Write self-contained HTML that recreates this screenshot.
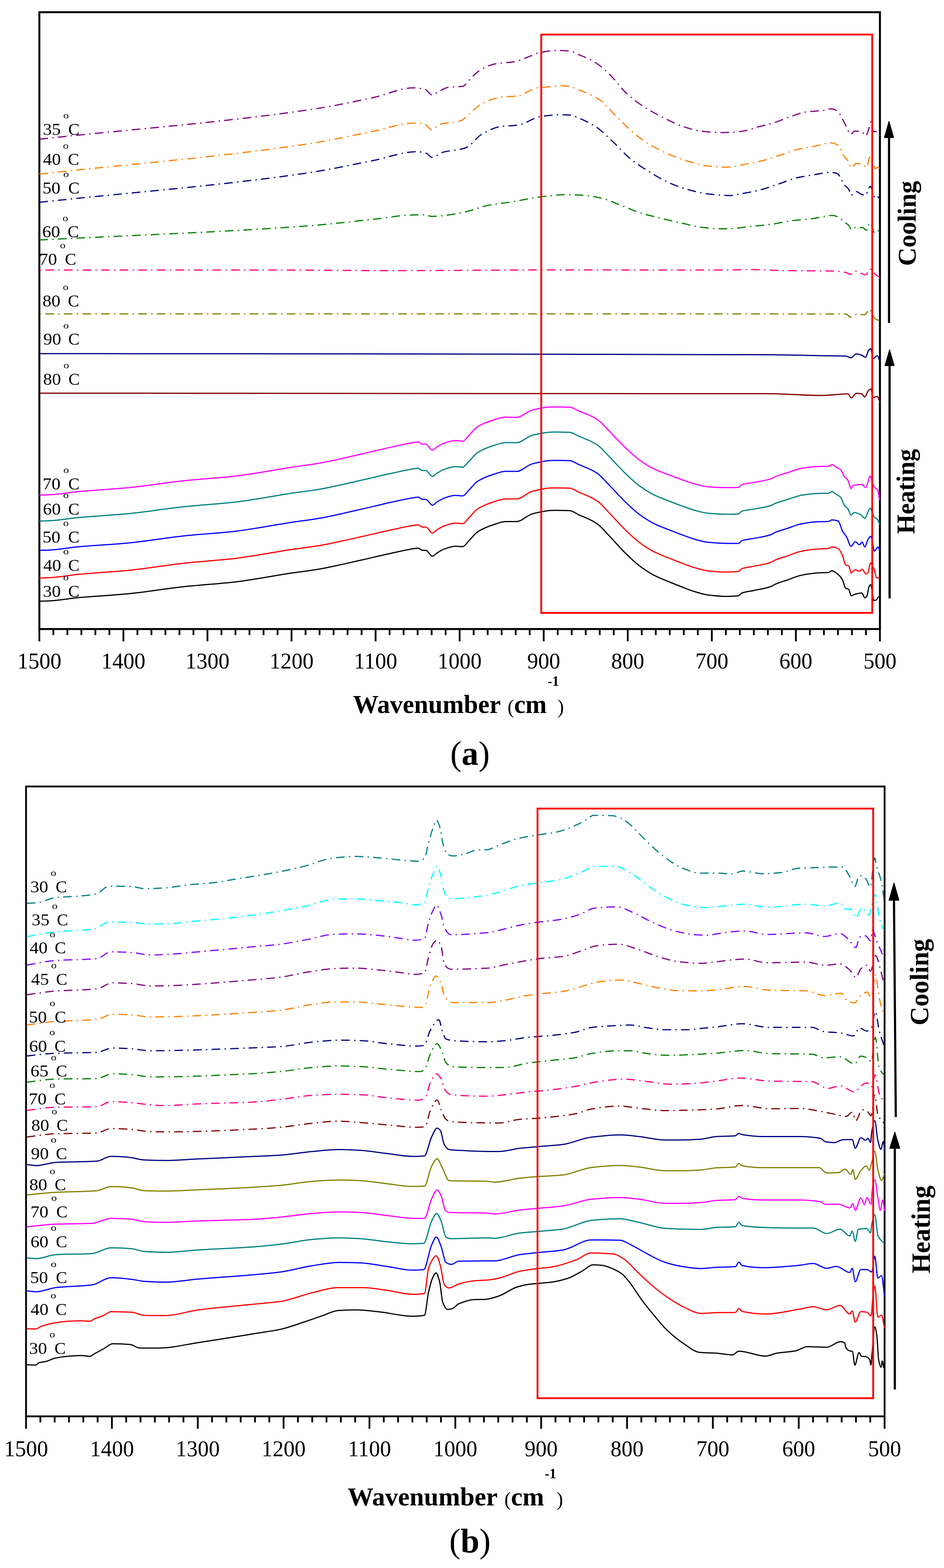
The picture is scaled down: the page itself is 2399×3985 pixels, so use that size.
<!DOCTYPE html>
<html><head><meta charset="utf-8"><title>FTIR spectra</title>
<style>
html,body{margin:0;padding:0;background:#fff;}
svg{display:block;}
</style></head>
<body>
<svg width="2399" height="3985" viewBox="0 0 2399 3985" font-family="'Liberation Serif', 'Times New Roman', serif" fill="#000">
<rect width="100%" height="100%" fill="#fff"/>
<rect x="100.0" y="31.0" width="2136.2" height="1567.7" fill="none" stroke="#000" stroke-width="5"/>
<path d="M100.0,1469.0 C109.3,1468.7 118.7,1468.4 128.0,1468.0 C151.3,1466.7 174.7,1462.1 198.0,1459.8 C240.7,1455.7 283.3,1453.8 326.0,1449.6 C373.0,1445.0 420.0,1436.5 467.0,1431.4 C511.3,1426.6 555.7,1424.2 600.0,1419.0 C618.0,1416.8 635.9,1413.7 653.9,1410.9 C680.9,1406.6 707.8,1401.5 734.8,1397.4 C759.9,1393.6 785.1,1391.0 810.2,1386.8 C830.0,1383.5 849.7,1379.0 869.5,1374.8 C887.5,1371.0 905.5,1366.8 923.5,1362.8 C949.0,1357.0 974.5,1350.8 1000.0,1345.5 C1018.0,1341.7 1036.0,1337.2 1054.0,1334.9 C1057.0,1334.5 1060.0,1333.9 1063.0,1333.9 C1066.3,1333.9 1069.7,1339.5 1073.0,1339.5 C1076.0,1339.5 1079.0,1339.5 1082.0,1339.6 C1087.7,1339.6 1093.3,1354.7 1099.0,1354.7 C1102.7,1354.7 1106.3,1349.1 1110.0,1346.8 C1116.3,1342.8 1122.7,1338.7 1129.0,1336.5 C1138.5,1333.3 1148.0,1329.6 1157.5,1329.6 C1163.7,1329.6 1169.8,1330.8 1176.0,1330.8 C1181.0,1330.8 1186.0,1321.6 1191.0,1316.7 C1198.7,1309.2 1206.3,1298.1 1214.0,1293.3 C1228.3,1284.2 1242.7,1279.0 1257.0,1274.7 C1266.3,1271.8 1275.7,1267.9 1285.0,1267.9 C1294.3,1267.9 1303.7,1268.0 1313.0,1268.0 C1325.7,1268.0 1338.3,1253.2 1351.0,1249.3 C1358.8,1246.9 1366.7,1245.2 1374.5,1243.8 C1383.0,1242.3 1391.5,1240.3 1400.0,1240.1 C1403.8,1240.0 1407.7,1239.9 1411.5,1239.9 C1423.7,1239.9 1435.8,1240.1 1448.0,1240.6 C1455.7,1240.9 1463.3,1247.5 1471.0,1250.8 C1481.5,1255.5 1492.1,1259.2 1502.6,1264.6 C1508.4,1267.5 1514.2,1270.7 1520.0,1275.0 C1527.0,1280.1 1534.0,1288.5 1541.0,1295.7 C1548.0,1302.9 1555.0,1310.8 1562.0,1318.2 C1571.3,1328.1 1580.7,1338.5 1590.0,1347.5 C1601.7,1358.8 1613.3,1370.0 1625.0,1378.7 C1636.7,1387.4 1648.3,1395.1 1660.0,1401.1 C1671.7,1407.2 1683.3,1411.6 1695.0,1416.4 C1706.7,1421.2 1718.3,1425.7 1730.0,1430.0 C1741.7,1434.4 1753.3,1439.3 1765.0,1442.6 C1776.7,1445.9 1788.3,1449.7 1800.0,1450.9 C1815.3,1452.5 1830.7,1453.8 1846.0,1453.8 C1856.3,1453.8 1866.7,1453.4 1877.0,1452.1 C1879.7,1451.8 1882.3,1446.4 1885.0,1445.4 C1895.7,1441.4 1906.3,1441.1 1917.0,1438.9 C1930.7,1435.9 1944.3,1434.2 1958.0,1429.6 C1962.3,1428.1 1966.7,1424.7 1971.0,1422.9 C1980.0,1419.2 1989.0,1416.8 1998.0,1413.8 C2011.7,1409.2 2025.3,1402.9 2039.0,1400.4 C2052.3,1397.9 2065.7,1396.0 2079.0,1395.2 C2088.0,1394.7 2097.0,1394.9 2106.0,1394.1 C2108.7,1393.8 2111.3,1390.0 2114.0,1390.0 C2119.3,1390.0 2124.7,1391.6 2130.0,1394.0 C2133.7,1395.7 2137.3,1403.8 2141.0,1411.5 C2143.7,1417.2 2146.5,1434.2 2149.2,1435.8 C2151.9,1437.4 2154.6,1436.8 2157.3,1438.5 C2159.1,1439.7 2160.9,1456.0 2162.7,1456.0 C2166.3,1456.0 2169.9,1448.0 2173.5,1448.0 C2177.0,1448.0 2180.5,1452.0 2184.0,1452.0 C2186.3,1452.0 2188.7,1446.6 2191.0,1446.6 C2194.1,1446.6 2197.3,1458.7 2200.4,1458.7 C2202.2,1458.7 2204.0,1457.7 2205.8,1456.0 C2207.1,1454.8 2208.5,1443.2 2209.8,1438.5 C2210.7,1435.3 2211.6,1430.4 2212.5,1430.4 C2213.7,1430.4 2214.8,1433.9 2216.0,1436.0 C2218.0,1439.5 2220.0,1442.8 2222.0,1448.0 C2223.8,1452.7 2225.6,1467.3 2227.4,1468.0 C2230.1,1469.0 2232.7,1469.0 2235.4,1469.5" fill="none" stroke="#FF0000" stroke-width="3.0" stroke-linejoin="round"/>
<path d="M100.0,1398.7 C109.3,1398.4 118.7,1398.2 128.0,1397.7 C151.3,1396.6 174.7,1392.0 198.0,1389.8 C240.7,1385.8 283.3,1384.0 326.0,1379.9 C373.0,1375.4 420.0,1367.0 467.0,1362.0 C511.3,1357.3 555.7,1355.1 600.0,1349.9 C618.0,1347.8 635.9,1344.8 653.9,1342.0 C680.9,1337.7 707.8,1332.6 734.8,1328.4 C759.9,1324.5 785.1,1321.8 810.2,1317.5 C830.0,1314.1 849.7,1309.5 869.5,1305.2 C887.5,1301.3 905.5,1297.0 923.5,1292.9 C949.0,1287.0 974.5,1280.7 1000.0,1275.2 C1018.0,1271.4 1036.0,1266.8 1054.0,1264.4 C1057.0,1264.0 1060.0,1263.4 1063.0,1263.4 C1066.3,1263.4 1069.7,1269.0 1073.0,1269.0 C1076.0,1269.0 1079.0,1268.9 1082.0,1268.9 C1087.7,1268.9 1093.3,1284.0 1099.0,1284.0 C1102.7,1284.0 1106.3,1278.4 1110.0,1276.1 C1116.3,1272.2 1122.7,1268.1 1129.0,1265.9 C1138.5,1262.7 1148.0,1259.1 1157.5,1259.1 C1163.7,1259.1 1169.8,1260.3 1176.0,1260.3 C1181.0,1260.3 1186.0,1251.2 1191.0,1246.3 C1198.7,1238.9 1206.3,1227.8 1214.0,1223.0 C1228.3,1214.0 1242.7,1208.8 1257.0,1204.5 C1266.3,1201.7 1275.7,1197.8 1285.0,1197.8 C1294.3,1197.8 1303.7,1198.1 1313.0,1198.1 C1325.7,1198.1 1338.3,1183.3 1351.0,1179.4 C1358.8,1177.0 1366.7,1175.3 1374.5,1173.9 C1383.0,1172.4 1391.5,1170.4 1400.0,1170.2 C1403.8,1170.2 1407.7,1170.1 1411.5,1170.1 C1423.7,1170.1 1435.8,1170.3 1448.0,1170.7 C1455.7,1170.9 1463.3,1177.4 1471.0,1180.7 C1481.5,1185.3 1492.1,1188.9 1502.6,1194.2 C1508.4,1197.1 1514.2,1200.2 1520.0,1204.5 C1527.0,1209.6 1534.0,1217.9 1541.0,1225.1 C1548.0,1232.2 1555.0,1240.0 1562.0,1247.4 C1571.3,1257.2 1580.7,1267.6 1590.0,1276.5 C1601.7,1287.7 1613.3,1298.9 1625.0,1307.5 C1636.7,1316.0 1648.3,1323.6 1660.0,1329.6 C1671.7,1335.5 1683.3,1339.9 1695.0,1344.6 C1706.7,1349.3 1718.3,1353.7 1730.0,1357.9 C1741.7,1362.2 1753.3,1367.0 1765.0,1370.3 C1776.7,1373.5 1788.3,1377.2 1800.0,1378.3 C1815.3,1379.7 1830.7,1380.8 1846.0,1380.9 C1856.3,1381.0 1866.7,1381.0 1877.0,1381.0 C1879.7,1381.0 1882.3,1375.3 1885.0,1374.3 C1895.7,1370.5 1906.3,1370.3 1917.0,1368.1 C1930.7,1365.3 1944.3,1363.7 1958.0,1359.2 C1962.3,1357.8 1966.7,1354.5 1971.0,1352.7 C1980.0,1349.1 1989.0,1346.8 1998.0,1343.8 C2011.7,1339.4 2025.3,1333.2 2039.0,1330.9 C2052.3,1328.5 2065.7,1326.7 2079.0,1326.1 C2088.0,1325.6 2097.0,1325.8 2106.0,1325.2 C2108.7,1325.0 2111.3,1321.2 2114.0,1321.2 C2119.3,1321.2 2124.7,1322.2 2130.0,1324.0 C2133.7,1325.3 2137.3,1342.9 2141.0,1349.5 C2144.7,1356.1 2148.3,1359.3 2152.0,1365.7 C2155.6,1371.9 2159.1,1388.6 2162.7,1388.6 C2166.3,1388.6 2169.9,1376.5 2173.5,1376.5 C2177.1,1376.5 2180.6,1384.6 2184.2,1384.6 C2186.5,1384.6 2188.7,1377.8 2191.0,1377.8 C2193.2,1377.8 2195.5,1390.0 2197.7,1390.0 C2200.4,1390.0 2203.1,1375.2 2205.8,1371.0 C2208.0,1367.5 2210.3,1363.0 2212.5,1363.0 C2213.7,1363.0 2214.8,1368.2 2216.0,1372.0 C2218.0,1378.5 2220.0,1400.7 2222.0,1400.7 C2225.1,1400.7 2228.3,1390.0 2231.4,1390.0 C2232.7,1390.0 2234.1,1396.3 2235.4,1399.4" fill="none" stroke="#0000FF" stroke-width="3.0" stroke-linejoin="round"/>
<path d="M100.0,1324.2 C109.3,1323.9 118.7,1323.7 128.0,1323.2 C151.3,1322.1 174.7,1317.5 198.0,1315.4 C240.7,1311.4 283.3,1309.6 326.0,1305.6 C373.0,1301.1 420.0,1292.7 467.0,1287.8 C511.3,1283.2 555.7,1281.0 600.0,1275.8 C618.0,1273.8 635.9,1270.7 653.9,1267.9 C680.9,1263.7 707.8,1258.6 734.8,1254.5 C759.9,1250.6 785.1,1247.9 810.2,1243.7 C830.0,1240.3 849.7,1235.8 869.5,1231.6 C887.5,1227.7 905.5,1223.4 923.5,1219.3 C949.0,1213.5 974.5,1207.2 1000.0,1201.8 C1018.0,1198.0 1036.0,1193.5 1054.0,1191.1 C1057.0,1190.7 1060.0,1190.1 1063.0,1190.1 C1066.3,1190.1 1069.7,1195.7 1073.0,1195.7 C1076.0,1195.7 1079.0,1195.7 1082.0,1195.7 C1087.7,1195.7 1093.3,1210.8 1099.0,1210.8 C1102.7,1210.8 1106.3,1205.2 1110.0,1202.9 C1116.3,1199.0 1122.7,1194.9 1129.0,1192.8 C1138.5,1189.6 1148.0,1186.0 1157.5,1186.0 C1163.7,1186.0 1169.8,1187.2 1176.0,1187.2 C1181.0,1187.2 1186.0,1178.0 1191.0,1173.2 C1198.7,1165.8 1206.3,1154.7 1214.0,1149.9 C1228.3,1140.9 1242.7,1135.8 1257.0,1131.5 C1266.3,1128.7 1275.7,1124.8 1285.0,1124.8 C1294.3,1124.8 1303.7,1125.2 1313.0,1125.2 C1325.7,1125.2 1338.3,1110.6 1351.0,1106.8 C1358.8,1104.5 1366.7,1102.9 1374.5,1101.6 C1383.0,1100.2 1391.5,1098.2 1400.0,1098.2 C1403.8,1098.1 1407.7,1098.1 1411.5,1098.1 C1423.7,1098.1 1435.8,1098.3 1448.0,1098.8 C1455.7,1099.0 1463.3,1105.4 1471.0,1108.7 C1481.5,1113.2 1492.1,1116.8 1502.6,1122.0 C1508.4,1124.9 1514.2,1128.0 1520.0,1132.2 C1527.0,1137.3 1534.0,1145.6 1541.0,1152.7 C1548.0,1159.8 1555.0,1167.6 1562.0,1174.9 C1571.3,1184.7 1580.7,1195.0 1590.0,1203.9 C1601.7,1215.0 1613.3,1226.1 1625.0,1234.7 C1636.7,1243.2 1648.3,1250.7 1660.0,1256.6 C1671.7,1262.5 1683.3,1266.8 1695.0,1271.5 C1706.7,1276.1 1718.3,1280.4 1730.0,1284.6 C1741.7,1288.8 1753.3,1293.6 1765.0,1296.8 C1776.7,1299.9 1788.3,1303.6 1800.0,1304.6 C1815.3,1305.9 1830.7,1307.0 1846.0,1307.0 C1856.3,1307.0 1866.7,1306.8 1877.0,1305.9 C1879.7,1305.7 1882.3,1300.2 1885.0,1299.3 C1895.7,1295.7 1906.3,1295.6 1917.0,1293.6 C1930.7,1291.0 1944.3,1289.5 1958.0,1285.3 C1962.3,1284.0 1966.7,1280.7 1971.0,1279.0 C1980.0,1275.5 1989.0,1273.3 1998.0,1270.5 C2011.7,1266.3 2025.3,1260.3 2039.0,1258.2 C2052.3,1256.1 2065.7,1254.3 2079.0,1254.0 C2088.0,1253.7 2097.0,1253.8 2106.0,1253.5 C2108.7,1253.3 2111.3,1249.6 2114.0,1249.6 C2117.7,1249.6 2121.3,1253.8 2125.0,1256.1 C2128.6,1258.3 2132.1,1259.7 2135.7,1263.3 C2139.3,1266.9 2142.9,1280.2 2146.5,1284.9 C2149.2,1288.4 2151.9,1289.4 2154.6,1293.0 C2157.3,1296.6 2160.0,1309.0 2162.7,1309.0 C2165.4,1309.0 2168.1,1302.4 2170.8,1302.4 C2176.2,1302.4 2181.6,1305.1 2187.0,1307.8 C2190.6,1309.6 2194.1,1317.2 2197.7,1317.2 C2200.4,1317.2 2203.1,1306.0 2205.8,1301.0 C2207.6,1297.7 2209.4,1291.6 2211.2,1291.6 C2212.8,1291.6 2214.4,1296.8 2216.0,1300.0 C2218.0,1304.0 2220.0,1312.3 2222.0,1314.5 C2224.7,1317.4 2227.3,1317.0 2230.0,1320.0 C2231.8,1322.0 2233.6,1328.9 2235.4,1333.4" fill="none" stroke="#008080" stroke-width="3.0" stroke-linejoin="round"/>
<path d="M100.0,1258.2 C109.3,1257.9 118.7,1257.7 128.0,1257.2 C151.3,1256.1 174.7,1251.5 198.0,1249.4 C240.7,1245.4 283.3,1243.6 326.0,1239.6 C373.0,1235.1 420.0,1226.7 467.0,1221.8 C511.3,1217.2 555.7,1215.0 600.0,1209.8 C618.0,1207.8 635.9,1204.7 653.9,1201.9 C680.9,1197.7 707.8,1192.6 734.8,1188.4 C759.9,1184.5 785.1,1181.7 810.2,1177.4 C830.0,1174.0 849.7,1169.5 869.5,1165.2 C887.5,1161.3 905.5,1157.0 923.5,1152.8 C949.0,1147.0 974.5,1140.6 1000.0,1135.1 C1018.0,1131.3 1036.0,1126.8 1054.0,1124.3 C1057.0,1123.9 1060.0,1123.3 1063.0,1123.3 C1066.3,1123.3 1069.7,1128.9 1073.0,1128.9 C1076.0,1128.9 1079.0,1128.8 1082.0,1128.8 C1087.7,1128.8 1093.3,1143.9 1099.0,1143.9 C1102.7,1143.9 1106.3,1138.4 1110.0,1136.2 C1116.3,1132.3 1122.7,1128.3 1129.0,1126.2 C1138.5,1123.1 1148.0,1119.8 1157.5,1119.8 C1163.7,1119.8 1169.8,1121.2 1176.0,1121.2 C1181.0,1121.2 1186.0,1112.2 1191.0,1107.4 C1198.7,1100.1 1206.3,1089.0 1214.0,1084.3 C1228.3,1075.6 1242.7,1070.6 1257.0,1066.5 C1266.3,1063.8 1275.7,1060.1 1285.0,1060.1 C1294.3,1060.1 1303.7,1060.8 1313.0,1060.8 C1325.7,1060.8 1338.3,1046.3 1351.0,1042.6 C1358.8,1040.3 1366.7,1038.8 1374.5,1037.5 C1383.0,1036.1 1391.5,1034.2 1400.0,1034.2 C1403.8,1034.2 1407.7,1034.2 1411.5,1034.2 C1423.7,1034.3 1435.8,1034.4 1448.0,1034.8 C1455.7,1035.0 1463.3,1041.3 1471.0,1044.5 C1481.5,1048.9 1492.1,1052.4 1502.6,1057.6 C1508.4,1060.4 1514.2,1063.4 1520.0,1067.6 C1527.0,1072.6 1534.0,1080.8 1541.0,1087.9 C1548.0,1094.9 1555.0,1102.6 1562.0,1109.9 C1571.3,1119.5 1580.7,1129.8 1590.0,1138.6 C1601.7,1149.6 1613.3,1160.6 1625.0,1169.0 C1636.7,1177.5 1648.3,1184.9 1660.0,1190.7 C1671.7,1196.5 1683.3,1200.6 1695.0,1205.2 C1706.7,1209.7 1718.3,1213.9 1730.0,1218.0 C1741.7,1222.1 1753.3,1226.8 1765.0,1229.8 C1776.7,1232.9 1788.3,1236.5 1800.0,1237.3 C1815.3,1238.5 1830.7,1239.3 1846.0,1239.3 C1856.3,1239.3 1866.7,1239.1 1877.0,1238.4 C1879.7,1238.2 1882.3,1232.7 1885.0,1231.8 C1895.7,1228.1 1906.3,1228.0 1917.0,1225.9 C1930.7,1223.2 1944.3,1221.7 1958.0,1217.4 C1962.3,1216.1 1966.7,1212.8 1971.0,1211.1 C1980.0,1207.5 1989.0,1205.3 1998.0,1202.5 C2011.7,1198.2 2025.3,1192.1 2039.0,1189.9 C2052.3,1187.7 2065.7,1186.0 2079.0,1185.5 C2088.0,1185.2 2097.0,1185.4 2106.0,1184.9 C2108.7,1184.8 2111.3,1181.0 2114.0,1181.0 C2117.7,1181.0 2121.3,1185.0 2125.0,1187.1 C2128.6,1189.1 2132.1,1190.1 2135.7,1193.2 C2139.3,1196.3 2142.9,1207.5 2146.5,1212.0 C2149.2,1215.4 2151.9,1216.1 2154.6,1220.0 C2157.3,1223.9 2160.0,1241.7 2162.7,1241.7 C2164.5,1241.7 2166.2,1234.1 2168.0,1233.6 C2175.2,1231.7 2182.4,1231.0 2189.6,1231.0 C2193.2,1231.0 2196.8,1239.0 2200.4,1239.0 C2202.2,1239.0 2204.0,1230.4 2205.8,1225.5 C2207.6,1220.6 2209.4,1209.4 2211.2,1209.4 C2212.8,1209.4 2214.4,1217.6 2216.0,1222.0 C2218.0,1227.4 2220.0,1236.8 2222.0,1239.0 C2224.7,1242.0 2227.3,1241.1 2230.0,1244.4 C2231.8,1246.7 2233.6,1262.4 2235.4,1271.4" fill="none" stroke="#FF00FF" stroke-width="3.0" stroke-linejoin="round"/>
<path d="M100.0,1528.0 C109.3,1527.7 118.7,1527.5 128.0,1527.0 C151.3,1525.8 174.7,1521.2 198.0,1519.0 C240.7,1515.0 283.3,1513.1 326.0,1509.0 C373.0,1504.5 420.0,1496.0 467.0,1491.0 C511.3,1486.3 555.7,1484.0 600.0,1478.8 C618.0,1476.7 635.9,1473.6 653.9,1470.8 C680.9,1466.6 707.8,1461.5 734.8,1457.3 C759.9,1453.4 785.1,1450.8 810.2,1446.5 C830.0,1443.1 849.7,1438.6 869.5,1434.4 C887.5,1430.5 905.5,1426.3 923.5,1422.2 C949.0,1416.4 974.5,1410.1 1000.0,1404.7 C1018.0,1400.9 1036.0,1396.4 1054.0,1394.0 C1057.0,1393.6 1060.0,1393.0 1063.0,1393.0 C1066.3,1393.0 1069.7,1398.6 1073.0,1398.6 C1076.0,1398.6 1079.0,1398.6 1082.0,1398.6 C1087.7,1398.6 1093.3,1413.7 1099.0,1413.7 C1102.7,1413.7 1106.3,1408.0 1110.0,1405.7 C1116.3,1401.7 1122.7,1397.5 1129.0,1395.3 C1138.5,1392.0 1148.0,1388.2 1157.5,1388.2 C1163.7,1388.2 1169.8,1389.2 1176.0,1389.2 C1181.0,1389.2 1186.0,1379.9 1191.0,1375.0 C1198.7,1367.5 1206.3,1356.3 1214.0,1351.4 C1228.3,1342.2 1242.7,1337.0 1257.0,1332.5 C1266.3,1329.6 1275.7,1325.5 1285.0,1325.5 C1294.3,1325.5 1303.7,1325.5 1313.0,1325.5 C1325.7,1325.5 1338.3,1310.6 1351.0,1306.6 C1358.8,1304.1 1366.7,1302.4 1374.5,1301.0 C1383.0,1299.4 1391.5,1297.4 1400.0,1297.2 C1403.8,1297.1 1407.7,1297.0 1411.5,1297.0 C1423.7,1297.0 1435.8,1297.3 1448.0,1297.8 C1455.7,1298.1 1463.3,1304.8 1471.0,1308.3 C1481.5,1313.1 1492.1,1316.9 1502.6,1322.4 C1508.4,1325.4 1514.2,1328.6 1520.0,1333.0 C1527.0,1338.3 1534.0,1346.7 1541.0,1354.0 C1548.0,1361.3 1555.0,1369.2 1562.0,1376.7 C1571.3,1386.7 1580.7,1397.3 1590.0,1406.4 C1601.7,1417.8 1613.3,1429.2 1625.0,1438.0 C1636.7,1446.8 1648.3,1454.6 1660.0,1460.8 C1671.7,1467.0 1683.3,1471.6 1695.0,1476.5 C1706.7,1481.4 1718.3,1486.0 1730.0,1490.5 C1741.7,1495.0 1753.3,1500.0 1765.0,1503.5 C1776.7,1507.0 1788.3,1510.8 1800.0,1512.2 C1815.3,1514.0 1830.7,1515.7 1846.0,1515.7 C1856.3,1515.7 1866.7,1515.3 1877.0,1514.0 C1879.7,1513.7 1882.3,1508.2 1885.0,1507.2 C1895.7,1503.1 1906.3,1502.8 1917.0,1500.5 C1930.7,1497.5 1944.3,1495.7 1958.0,1491.0 C1962.3,1489.5 1966.7,1486.1 1971.0,1484.3 C1980.0,1480.5 1989.0,1478.0 1998.0,1475.0 C2011.7,1470.4 2025.3,1464.0 2039.0,1461.4 C2052.3,1458.8 2065.7,1456.9 2079.0,1456.0 C2088.0,1455.4 2097.0,1455.6 2106.0,1454.7 C2108.7,1454.4 2111.3,1450.6 2114.0,1450.6 C2119.3,1450.6 2124.7,1455.7 2130.0,1460.0 C2133.7,1463.0 2137.3,1467.2 2141.0,1473.5 C2143.7,1478.1 2146.3,1493.3 2149.0,1495.0 C2151.7,1496.7 2154.3,1496.1 2157.0,1497.8 C2159.0,1499.1 2161.0,1514.0 2163.0,1514.0 C2166.5,1514.0 2170.0,1510.9 2173.5,1510.0 C2179.0,1508.6 2184.5,1507.0 2190.0,1507.0 C2192.7,1507.0 2195.3,1519.3 2198.0,1519.3 C2199.7,1519.3 2201.3,1517.5 2203.0,1515.3 C2204.8,1512.8 2206.7,1494.6 2208.5,1491.0 C2209.8,1488.4 2211.2,1485.7 2212.5,1485.7 C2213.7,1485.7 2214.8,1494.5 2216.0,1500.0 C2217.5,1507.2 2219.1,1526.0 2220.6,1526.0 C2222.9,1526.0 2225.1,1525.5 2227.4,1524.7 C2228.7,1524.2 2230.1,1518.7 2231.4,1518.0 C2232.7,1517.3 2234.1,1517.1 2235.4,1516.7" fill="none" stroke="#000000" stroke-width="3.0" stroke-linejoin="round"/>
<path d="M100.0,353.8 C330.0,328.6 560.0,312.2 790.0,278.3 C842.3,270.6 894.7,259.5 947.0,248.3 C981.9,240.8 1016.7,223.2 1051.6,223.2 C1061.3,223.2 1071.1,224.9 1080.8,227.4 C1086.4,228.9 1091.9,241.2 1097.5,241.2 C1103.1,241.2 1108.6,235.5 1114.2,232.9 C1122.6,229.0 1130.9,223.1 1139.3,222.0 C1151.8,220.3 1164.4,221.2 1176.9,219.1 C1181.8,218.3 1186.6,209.1 1191.5,204.4 C1200.6,195.6 1209.6,184.9 1218.7,179.4 C1231.2,171.8 1243.8,165.1 1256.3,162.7 C1274.4,159.2 1292.5,159.7 1310.6,156.4 C1321.7,154.3 1332.9,148.0 1344.0,143.9 C1353.8,140.3 1363.5,135.2 1373.3,133.4 C1387.2,130.9 1401.1,128.5 1415.0,128.5 C1425.5,128.5 1436.1,128.9 1446.6,129.6 C1454.7,130.1 1462.9,135.7 1471.0,139.0 C1481.5,143.3 1492.1,147.5 1502.6,153.0 C1508.4,156.0 1514.2,159.5 1520.0,163.6 C1530.6,171.1 1541.1,181.1 1551.7,191.6 C1564.5,204.3 1577.4,223.4 1590.2,235.4 C1604.2,248.5 1618.3,259.4 1632.3,268.7 C1651.0,281.1 1669.6,290.8 1688.3,300.2 C1702.3,307.3 1716.4,314.7 1730.4,319.5 C1747.9,325.5 1765.5,331.6 1783.0,333.5 C1800.5,335.4 1818.0,337.0 1835.5,337.0 C1847.2,337.0 1858.8,336.2 1870.5,335.3 C1880.3,334.6 1890.2,333.1 1900.0,331.0 C1905.8,329.8 1911.6,326.9 1917.4,325.1 C1932.7,320.5 1947.9,317.7 1963.2,313.0 C1979.4,308.1 1995.5,300.8 2011.7,295.5 C2023.4,291.6 2035.1,286.4 2046.8,284.7 C2062.1,282.5 2077.3,282.6 2092.6,280.6 C2099.3,279.7 2106.1,276.6 2112.8,276.6 C2117.7,276.6 2122.7,279.1 2127.6,282.0 C2133.9,285.7 2140.2,302.3 2146.5,313.0 C2151.9,322.1 2157.3,341.3 2162.7,341.3 C2165.4,341.3 2168.1,333.2 2170.8,333.2 C2177.1,333.2 2183.3,333.7 2189.6,334.6 C2193.2,335.1 2196.8,345.3 2200.4,345.3 C2203.1,345.3 2205.8,333.3 2208.5,325.1 C2209.8,321.0 2211.2,310.3 2212.5,310.3 C2213.7,310.3 2214.8,314.4 2216.0,318.0 C2217.1,321.4 2218.2,334.6 2219.3,334.6 C2222.9,334.6 2226.4,334.6 2230.0,334.6 C2232.3,334.6 2234.5,342.7 2236.8,346.7" fill="none" stroke="#800080" stroke-width="3.0" stroke-linejoin="round" stroke-dasharray="22 11 3.5 10.7" stroke-dashoffset="0.0"/>
<path d="M100.0,442.5 C326.7,417.0 553.3,400.0 780.0,366.1 C835.7,357.8 891.3,345.0 947.0,334.0 C981.9,327.1 1016.7,313.0 1051.6,313.0 C1059.9,313.0 1068.3,313.3 1076.6,313.9 C1083.6,314.4 1090.5,329.8 1097.5,329.8 C1103.1,329.8 1108.6,319.2 1114.2,317.3 C1133.7,310.6 1153.2,312.9 1172.7,306.0 C1178.3,304.0 1183.8,296.8 1189.4,292.2 C1200.6,283.0 1211.7,270.7 1222.9,265.0 C1239.6,256.5 1256.3,248.9 1273.0,247.0 C1286.9,245.4 1300.9,245.7 1314.8,244.1 C1331.5,242.2 1348.3,225.6 1365.0,223.3 C1376.7,221.7 1388.3,221.5 1400.0,220.3 C1406.2,219.6 1412.3,217.9 1418.5,217.9 C1426.7,217.9 1434.8,218.4 1443.0,219.0 C1452.3,219.7 1461.7,224.8 1471.0,228.4 C1487.4,234.7 1503.8,240.9 1520.2,251.2 C1535.4,260.7 1550.5,280.4 1565.7,295.0 C1580.9,309.6 1596.1,326.4 1611.3,338.8 C1625.3,350.2 1639.3,360.4 1653.3,368.6 C1669.6,378.2 1686.0,386.3 1702.3,393.1 C1718.7,399.9 1735.0,405.9 1751.4,410.6 C1767.8,415.3 1784.1,420.5 1800.5,422.2 C1812.2,423.4 1823.8,424.3 1835.5,424.6 C1840.3,424.7 1845.2,424.9 1850.0,424.9 C1863.5,424.9 1876.9,420.6 1890.4,418.1 C1903.9,415.6 1917.4,413.2 1930.9,410.0 C1947.1,406.1 1963.2,400.3 1979.4,395.2 C1994.7,390.4 2009.9,384.2 2025.2,380.4 C2043.2,375.9 2061.1,373.3 2079.1,369.6 C2089.9,367.4 2100.7,362.9 2111.5,362.9 C2117.8,362.9 2124.0,365.7 2130.3,369.6 C2134.8,372.4 2139.3,388.3 2143.8,395.2 C2148.3,402.1 2152.8,404.7 2157.3,412.7 C2159.1,415.9 2160.9,426.2 2162.7,426.2 C2167.2,426.2 2171.6,415.4 2176.1,415.4 C2181.5,415.4 2186.9,416.6 2192.3,418.1 C2195.9,419.1 2199.5,424.9 2203.1,424.9 C2204.9,424.9 2206.7,406.8 2208.5,403.3 C2209.8,400.7 2211.2,397.9 2212.5,397.9 C2213.7,397.9 2214.8,402.3 2216.0,405.0 C2218.9,411.6 2221.8,428.9 2224.7,428.9 C2226.9,428.9 2229.2,424.9 2231.4,424.9 C2233.2,424.9 2235.0,430.2 2236.8,432.9" fill="none" stroke="#FF8000" stroke-width="3.0" stroke-linejoin="round" stroke-dasharray="22 11 3.5 10.7" stroke-dashoffset="0.0"/>
<path d="M100.0,514.2 C326.7,489.4 553.3,472.8 780.0,439.7 C835.7,431.6 891.3,419.2 947.0,408.3 C984.7,400.9 1022.3,385.4 1060.0,385.4 C1068.3,385.4 1076.7,387.6 1085.0,390.4 C1089.2,391.8 1093.3,400.0 1097.5,400.0 C1107.3,400.0 1117.0,389.2 1126.8,386.6 C1143.5,382.2 1160.3,382.2 1177.0,377.8 C1180.5,376.9 1183.9,375.5 1187.4,373.7 C1199.2,367.7 1211.1,349.1 1222.9,342.3 C1239.6,332.6 1256.3,323.6 1273.0,321.4 C1286.9,319.6 1300.9,319.9 1314.8,318.1 C1334.3,315.6 1353.8,299.9 1373.3,296.4 C1382.2,294.8 1391.1,294.0 1400.0,293.0 C1405.0,292.4 1410.0,291.5 1415.0,291.5 C1426.7,291.5 1438.3,291.8 1450.0,292.5 C1457.0,292.9 1464.0,297.3 1471.0,300.2 C1485.0,306.0 1499.0,312.4 1513.0,321.3 C1527.1,330.3 1541.1,345.1 1555.2,358.0 C1571.5,372.9 1587.9,392.3 1604.2,405.3 C1620.6,418.3 1636.9,428.6 1653.3,438.6 C1667.3,447.2 1681.3,455.7 1695.3,462.1 C1711.7,469.5 1728.0,476.1 1744.4,480.7 C1763.1,485.9 1781.8,490.8 1800.5,493.0 C1814.5,494.6 1828.5,495.7 1842.5,496.4 C1847.2,496.6 1851.8,497.0 1856.5,497.0 C1863.3,497.0 1870.2,494.8 1877.0,493.6 C1895.0,490.4 1912.9,487.2 1930.9,482.8 C1947.1,478.8 1963.2,472.7 1979.4,467.4 C1994.7,462.4 2009.9,455.4 2025.2,451.8 C2040.5,448.2 2055.7,446.2 2071.0,443.7 C2084.0,441.6 2097.0,437.8 2110.0,437.8 C2115.9,437.8 2121.7,439.1 2127.6,441.0 C2133.9,443.0 2140.2,463.2 2146.5,470.7 C2150.1,475.0 2153.7,475.9 2157.3,481.5 C2159.1,484.3 2160.9,496.3 2162.7,496.3 C2167.2,496.3 2171.6,486.8 2176.1,486.8 C2179.7,486.8 2183.4,491.5 2187.0,492.8 C2191.5,494.4 2195.9,496.3 2200.4,496.3 C2202.7,496.3 2204.9,482.1 2207.2,478.8 C2209.0,476.3 2210.7,473.4 2212.5,473.4 C2213.7,473.4 2214.8,479.1 2216.0,482.0 C2218.9,489.3 2221.8,504.4 2224.7,504.4 C2226.5,504.4 2228.2,500.3 2230.0,500.3 C2232.3,500.3 2234.5,503.9 2236.8,505.7" fill="none" stroke="#000080" stroke-width="3.0" stroke-linejoin="round" stroke-dasharray="22 11 3.5 10.7" stroke-dashoffset="0.0"/>
<path d="M100.0,610.0 C326.7,598.1 553.3,590.9 780.0,574.2 C835.7,570.1 891.3,563.3 947.0,557.5 C981.9,553.9 1016.7,546.6 1051.6,546.2 C1061.1,546.1 1070.5,546.0 1080.0,546.0 C1085.8,546.0 1091.7,550.0 1097.5,550.0 C1122.6,550.0 1147.6,545.2 1172.7,540.8 C1181.1,539.3 1189.4,536.8 1197.8,534.5 C1211.7,530.7 1225.7,524.8 1239.6,522.0 C1260.5,517.8 1281.3,516.1 1302.2,512.8 C1325.9,509.0 1349.6,503.1 1373.3,500.3 C1382.2,499.2 1391.1,498.5 1400.0,497.7 C1410.9,496.7 1421.7,494.7 1432.6,494.7 C1450.1,494.7 1467.5,495.4 1485.0,496.4 C1499.1,497.2 1513.1,500.2 1527.2,503.4 C1543.5,507.1 1559.9,514.9 1576.2,521.0 C1592.6,527.1 1608.9,535.0 1625.3,540.2 C1642.8,545.8 1660.3,549.9 1677.8,554.3 C1695.3,558.7 1712.9,562.6 1730.4,566.5 C1747.9,570.4 1765.5,575.6 1783.0,577.7 C1798.2,579.5 1813.3,581.6 1828.5,581.6 C1840.2,581.6 1851.8,581.1 1863.5,580.5 C1877.0,579.8 1890.5,577.3 1904.0,575.8 C1921.9,573.9 1939.9,572.7 1957.8,570.4 C1975.8,568.1 1993.7,563.3 2011.7,561.0 C2029.7,558.7 2047.6,557.8 2065.6,555.6 C2082.2,553.5 2098.9,547.5 2115.5,547.5 C2120.4,547.5 2125.4,549.5 2130.3,551.5 C2135.7,553.7 2141.1,560.8 2146.5,565.0 C2150.1,567.8 2153.7,569.3 2157.3,573.1 C2159.5,575.5 2161.8,583.9 2164.0,583.9 C2167.2,583.9 2170.3,578.0 2173.5,578.0 C2179.8,578.0 2186.0,578.2 2192.3,578.5 C2195.9,578.7 2199.5,585.2 2203.1,585.2 C2205.3,585.2 2207.6,566.4 2209.8,566.4 C2211.9,566.4 2213.9,571.1 2216.0,575.0 C2218.0,578.7 2220.0,592.0 2222.0,592.0 C2223.8,592.0 2225.6,586.6 2227.4,586.6 C2230.5,586.6 2233.7,586.6 2236.8,586.6" fill="none" stroke="#008000" stroke-width="3.0" stroke-linejoin="round" stroke-dasharray="22 11 3.5 10.7" stroke-dashoffset="0.0"/>
<path d="M100.0,686.3 C300.0,686.3 500.0,686.3 700.0,686.3 C800.0,686.3 900.0,687.8 1000.0,687.8 C1133.3,687.8 1266.7,686.0 1400.0,686.0 C1550.0,686.0 1700.0,686.3 1850.0,686.3 C1866.7,686.3 1883.3,685.0 1900.0,685.0 C1933.3,685.0 1966.7,687.2 2000.0,687.7 C2040.0,688.3 2080.0,688.1 2120.0,689.0 C2128.8,689.2 2137.7,690.3 2146.5,691.7 C2151.9,692.6 2157.3,697.1 2162.7,697.1 C2166.3,697.1 2169.9,689.0 2173.5,689.0 C2182.5,689.0 2191.4,698.4 2200.4,698.4 C2203.5,698.4 2206.7,683.6 2209.8,683.6 C2211.9,683.6 2213.9,684.6 2216.0,686.0 C2217.1,686.7 2218.2,690.3 2219.3,691.7 C2225.1,698.9 2231.0,701.6 2236.8,706.5" fill="none" stroke="#FF0080" stroke-width="3.0" stroke-linejoin="round" stroke-dasharray="22 11 3.5 10.7" stroke-dashoffset="32.0"/>
<path d="M100.0,797.7 C400.0,797.7 700.0,797.7 1000.0,797.7 C1383.3,797.7 1766.7,797.7 2150.0,798.0 C2154.1,798.0 2158.2,806.0 2162.3,806.0 C2166.5,806.0 2170.8,799.0 2175.0,799.0 C2182.5,799.0 2190.1,800.0 2197.6,800.0 C2201.5,800.0 2205.5,786.0 2209.4,786.0 C2211.6,786.0 2213.8,793.3 2216.0,797.0 C2218.5,801.2 2221.1,807.6 2223.6,809.6 C2227.5,812.7 2231.5,813.5 2235.4,815.5" fill="none" stroke="#808000" stroke-width="3.0" stroke-linejoin="round" stroke-dasharray="22 11 3.5 10.7" stroke-dashoffset="32.0"/>
<path d="M100.0,898.8 C266.7,898.9 433.3,898.9 600.0,899.0 C733.3,899.1 866.7,899.3 1000.0,899.5 C1166.7,899.8 1333.3,900.1 1500.0,900.5 C1650.0,900.8 1800.0,900.9 1950.0,901.6 C1996.7,901.8 2043.3,903.2 2090.0,904.0 C2110.0,904.3 2130.0,904.2 2150.0,905.0 C2154.1,905.2 2158.2,909.3 2162.3,909.3 C2167.0,909.3 2171.7,899.2 2176.4,899.2 C2180.9,899.2 2185.5,901.4 2190.0,903.0 C2193.3,904.2 2196.7,907.9 2200.0,907.9 C2202.3,907.9 2204.7,893.8 2207.0,891.0 C2209.0,888.6 2211.0,886.2 2213.0,886.2 C2215.0,886.2 2216.9,911.0 2218.9,911.0 C2222.4,911.0 2226.0,904.0 2229.5,904.0 C2231.9,904.0 2234.2,914.9 2236.6,920.4" fill="none" stroke="#000080" stroke-width="3.0" stroke-linejoin="round"/>
<path d="M100.0,999.2 C266.7,999.3 433.3,999.4 600.0,999.5 C733.3,999.6 866.7,999.9 1000.0,1000.0 C1166.7,1000.1 1333.3,1000.2 1500.0,1000.3 C1650.0,1000.4 1800.0,1000.4 1950.0,1000.6 C1996.7,1000.7 2043.3,1005.0 2090.0,1005.0 C2111.7,1005.0 2133.3,1001.0 2155.0,1001.0 C2157.8,1001.0 2160.6,1011.2 2163.4,1011.2 C2167.7,1011.2 2172.1,999.4 2176.4,999.4 C2180.9,999.4 2185.5,1000.0 2190.0,1001.0 C2192.5,1001.6 2195.1,1008.9 2197.6,1008.9 C2200.7,1008.9 2203.9,995.1 2207.0,992.4 C2209.0,990.7 2211.0,988.8 2213.0,988.8 C2215.0,988.8 2216.9,1010.0 2218.9,1010.0 C2222.4,1010.0 2226.0,1007.7 2229.5,1007.7 C2231.9,1007.7 2234.2,1017.9 2236.6,1023.0" fill="none" stroke="#800000" stroke-width="3.0" stroke-linejoin="round"/>
<rect x="1375.5" y="87.8" width="841.1" height="1469.8" fill="none" stroke="#FF0000" stroke-width="4.6"/>
<line x1="100.0" y1="1598.7" x2="100.0" y2="1630.0" stroke="#000" stroke-width="4.5"/>
<text x="100.0" y="1699.0" font-size="56" text-anchor="middle">1500</text>
<line x1="135.6" y1="1598.7" x2="135.6" y2="1614.0" stroke="#000" stroke-width="4.5"/>
<line x1="171.2" y1="1598.7" x2="171.2" y2="1614.0" stroke="#000" stroke-width="4.5"/>
<line x1="206.8" y1="1598.7" x2="206.8" y2="1614.0" stroke="#000" stroke-width="4.5"/>
<line x1="242.4" y1="1598.7" x2="242.4" y2="1614.0" stroke="#000" stroke-width="4.5"/>
<line x1="278.0" y1="1598.7" x2="278.0" y2="1614.0" stroke="#000" stroke-width="4.5"/>
<line x1="313.6" y1="1598.7" x2="313.6" y2="1630.0" stroke="#000" stroke-width="4.5"/>
<text x="313.6" y="1699.0" font-size="56" text-anchor="middle">1400</text>
<line x1="349.2" y1="1598.7" x2="349.2" y2="1614.0" stroke="#000" stroke-width="4.5"/>
<line x1="384.8" y1="1598.7" x2="384.8" y2="1614.0" stroke="#000" stroke-width="4.5"/>
<line x1="420.4" y1="1598.7" x2="420.4" y2="1614.0" stroke="#000" stroke-width="4.5"/>
<line x1="456.0" y1="1598.7" x2="456.0" y2="1614.0" stroke="#000" stroke-width="4.5"/>
<line x1="491.6" y1="1598.7" x2="491.6" y2="1614.0" stroke="#000" stroke-width="4.5"/>
<line x1="527.2" y1="1598.7" x2="527.2" y2="1630.0" stroke="#000" stroke-width="4.5"/>
<text x="527.2" y="1699.0" font-size="56" text-anchor="middle">1300</text>
<line x1="562.8" y1="1598.7" x2="562.8" y2="1614.0" stroke="#000" stroke-width="4.5"/>
<line x1="598.4" y1="1598.7" x2="598.4" y2="1614.0" stroke="#000" stroke-width="4.5"/>
<line x1="634.0" y1="1598.7" x2="634.0" y2="1614.0" stroke="#000" stroke-width="4.5"/>
<line x1="669.7" y1="1598.7" x2="669.7" y2="1614.0" stroke="#000" stroke-width="4.5"/>
<line x1="705.3" y1="1598.7" x2="705.3" y2="1614.0" stroke="#000" stroke-width="4.5"/>
<line x1="740.9" y1="1598.7" x2="740.9" y2="1630.0" stroke="#000" stroke-width="4.5"/>
<text x="740.9" y="1699.0" font-size="56" text-anchor="middle">1200</text>
<line x1="776.5" y1="1598.7" x2="776.5" y2="1614.0" stroke="#000" stroke-width="4.5"/>
<line x1="812.1" y1="1598.7" x2="812.1" y2="1614.0" stroke="#000" stroke-width="4.5"/>
<line x1="847.7" y1="1598.7" x2="847.7" y2="1614.0" stroke="#000" stroke-width="4.5"/>
<line x1="883.3" y1="1598.7" x2="883.3" y2="1614.0" stroke="#000" stroke-width="4.5"/>
<line x1="918.9" y1="1598.7" x2="918.9" y2="1614.0" stroke="#000" stroke-width="4.5"/>
<line x1="954.5" y1="1598.7" x2="954.5" y2="1630.0" stroke="#000" stroke-width="4.5"/>
<text x="954.5" y="1699.0" font-size="56" text-anchor="middle">1100</text>
<line x1="990.1" y1="1598.7" x2="990.1" y2="1614.0" stroke="#000" stroke-width="4.5"/>
<line x1="1025.7" y1="1598.7" x2="1025.7" y2="1614.0" stroke="#000" stroke-width="4.5"/>
<line x1="1061.3" y1="1598.7" x2="1061.3" y2="1614.0" stroke="#000" stroke-width="4.5"/>
<line x1="1096.9" y1="1598.7" x2="1096.9" y2="1614.0" stroke="#000" stroke-width="4.5"/>
<line x1="1132.5" y1="1598.7" x2="1132.5" y2="1614.0" stroke="#000" stroke-width="4.5"/>
<line x1="1168.1" y1="1598.7" x2="1168.1" y2="1630.0" stroke="#000" stroke-width="4.5"/>
<text x="1168.1" y="1699.0" font-size="56" text-anchor="middle">1000</text>
<line x1="1203.7" y1="1598.7" x2="1203.7" y2="1614.0" stroke="#000" stroke-width="4.5"/>
<line x1="1239.3" y1="1598.7" x2="1239.3" y2="1614.0" stroke="#000" stroke-width="4.5"/>
<line x1="1274.9" y1="1598.7" x2="1274.9" y2="1614.0" stroke="#000" stroke-width="4.5"/>
<line x1="1310.5" y1="1598.7" x2="1310.5" y2="1614.0" stroke="#000" stroke-width="4.5"/>
<line x1="1346.1" y1="1598.7" x2="1346.1" y2="1614.0" stroke="#000" stroke-width="4.5"/>
<line x1="1381.7" y1="1598.7" x2="1381.7" y2="1630.0" stroke="#000" stroke-width="4.5"/>
<text x="1381.7" y="1699.0" font-size="56" text-anchor="middle">900</text>
<line x1="1417.3" y1="1598.7" x2="1417.3" y2="1614.0" stroke="#000" stroke-width="4.5"/>
<line x1="1452.9" y1="1598.7" x2="1452.9" y2="1614.0" stroke="#000" stroke-width="4.5"/>
<line x1="1488.5" y1="1598.7" x2="1488.5" y2="1614.0" stroke="#000" stroke-width="4.5"/>
<line x1="1524.1" y1="1598.7" x2="1524.1" y2="1614.0" stroke="#000" stroke-width="4.5"/>
<line x1="1559.7" y1="1598.7" x2="1559.7" y2="1614.0" stroke="#000" stroke-width="4.5"/>
<line x1="1595.3" y1="1598.7" x2="1595.3" y2="1630.0" stroke="#000" stroke-width="4.5"/>
<text x="1595.3" y="1699.0" font-size="56" text-anchor="middle">800</text>
<line x1="1630.9" y1="1598.7" x2="1630.9" y2="1614.0" stroke="#000" stroke-width="4.5"/>
<line x1="1666.5" y1="1598.7" x2="1666.5" y2="1614.0" stroke="#000" stroke-width="4.5"/>
<line x1="1702.1" y1="1598.7" x2="1702.1" y2="1614.0" stroke="#000" stroke-width="4.5"/>
<line x1="1737.8" y1="1598.7" x2="1737.8" y2="1614.0" stroke="#000" stroke-width="4.5"/>
<line x1="1773.4" y1="1598.7" x2="1773.4" y2="1614.0" stroke="#000" stroke-width="4.5"/>
<line x1="1809.0" y1="1598.7" x2="1809.0" y2="1630.0" stroke="#000" stroke-width="4.5"/>
<text x="1809.0" y="1699.0" font-size="56" text-anchor="middle">700</text>
<line x1="1844.6" y1="1598.7" x2="1844.6" y2="1614.0" stroke="#000" stroke-width="4.5"/>
<line x1="1880.2" y1="1598.7" x2="1880.2" y2="1614.0" stroke="#000" stroke-width="4.5"/>
<line x1="1915.8" y1="1598.7" x2="1915.8" y2="1614.0" stroke="#000" stroke-width="4.5"/>
<line x1="1951.4" y1="1598.7" x2="1951.4" y2="1614.0" stroke="#000" stroke-width="4.5"/>
<line x1="1987.0" y1="1598.7" x2="1987.0" y2="1614.0" stroke="#000" stroke-width="4.5"/>
<line x1="2022.6" y1="1598.7" x2="2022.6" y2="1630.0" stroke="#000" stroke-width="4.5"/>
<text x="2022.6" y="1699.0" font-size="56" text-anchor="middle">600</text>
<line x1="2058.2" y1="1598.7" x2="2058.2" y2="1614.0" stroke="#000" stroke-width="4.5"/>
<line x1="2093.8" y1="1598.7" x2="2093.8" y2="1614.0" stroke="#000" stroke-width="4.5"/>
<line x1="2129.4" y1="1598.7" x2="2129.4" y2="1614.0" stroke="#000" stroke-width="4.5"/>
<line x1="2165.0" y1="1598.7" x2="2165.0" y2="1614.0" stroke="#000" stroke-width="4.5"/>
<line x1="2200.6" y1="1598.7" x2="2200.6" y2="1614.0" stroke="#000" stroke-width="4.5"/>
<line x1="2236.2" y1="1598.7" x2="2236.2" y2="1630.0" stroke="#000" stroke-width="4.5"/>
<text x="2236.2" y="1699.0" font-size="56" text-anchor="middle">500</text>
<text x="109.1" y="343.0" font-size="43.0" textLength="45.5" lengthAdjust="spacingAndGlyphs">35</text>
<text x="0.0" y="0.0" font-size="26" transform="translate(160.8,301.4) scale(1.1,0.85) translate(0.0,0.0)">o</text>
<text x="173.5" y="343.0" font-size="43.0">C</text>
<text x="109.2" y="419.3" font-size="43.0" textLength="45.5" lengthAdjust="spacingAndGlyphs">40</text>
<text x="0.0" y="0.0" font-size="26" transform="translate(159.9,377.7) scale(1.1,0.85) translate(0.0,0.0)">o</text>
<text x="172.6" y="419.3" font-size="43.0">C</text>
<text x="108.1" y="492.0" font-size="43.0" textLength="45.5" lengthAdjust="spacingAndGlyphs">50</text>
<text x="0.0" y="0.0" font-size="26" transform="translate(160.8,450.4) scale(1.1,0.85) translate(0.0,0.0)">o</text>
<text x="173.5" y="492.0" font-size="43.0">C</text>
<text x="107.3" y="603.4" font-size="43.0" textLength="45.5" lengthAdjust="spacingAndGlyphs">60</text>
<text x="0.0" y="0.0" font-size="26" transform="translate(159.0,561.8) scale(1.1,0.85) translate(0.0,0.0)">o</text>
<text x="171.7" y="603.4" font-size="43.0">C</text>
<text x="99.6" y="672.5" font-size="43.0" textLength="45.5" lengthAdjust="spacingAndGlyphs">70</text>
<text x="0.0" y="0.0" font-size="26" transform="translate(152.3,630.9) scale(1.1,0.85) translate(0.0,0.0)">o</text>
<text x="165.0" y="672.5" font-size="43.0">C</text>
<text x="108.1" y="779.0" font-size="43.0" textLength="45.5" lengthAdjust="spacingAndGlyphs">80</text>
<text x="0.0" y="0.0" font-size="26" transform="translate(159.8,737.4) scale(1.1,0.85) translate(0.0,0.0)">o</text>
<text x="172.5" y="779.0" font-size="43.0">C</text>
<text x="110.1" y="876.4" font-size="43.0" textLength="45.5" lengthAdjust="spacingAndGlyphs">90</text>
<text x="0.0" y="0.0" font-size="26" transform="translate(160.8,834.8) scale(1.1,0.85) translate(0.0,0.0)">o</text>
<text x="173.5" y="876.4" font-size="43.0">C</text>
<text x="109.6" y="977.7" font-size="43.0" textLength="45.5" lengthAdjust="spacingAndGlyphs">80</text>
<text x="0.0" y="0.0" font-size="26" transform="translate(161.3,936.1) scale(1.1,0.85) translate(0.0,0.0)">o</text>
<text x="174.0" y="977.7" font-size="43.0">C</text>
<text x="108.2" y="1243.8" font-size="43.0" textLength="45.5" lengthAdjust="spacingAndGlyphs">70</text>
<text x="0.0" y="0.0" font-size="26" transform="translate(160.9,1202.2) scale(1.1,0.85) translate(0.0,0.0)">o</text>
<text x="173.6" y="1243.8" font-size="43.0">C</text>
<text x="108.9" y="1307.6" font-size="43.0" textLength="45.5" lengthAdjust="spacingAndGlyphs">60</text>
<text x="0.0" y="0.0" font-size="26" transform="translate(160.6,1266.0) scale(1.1,0.85) translate(0.0,0.0)">o</text>
<text x="173.3" y="1307.6" font-size="43.0">C</text>
<text x="107.9" y="1378.6" font-size="43.0" textLength="45.5" lengthAdjust="spacingAndGlyphs">50</text>
<text x="0.0" y="0.0" font-size="26" transform="translate(160.6,1337.0) scale(1.1,0.85) translate(0.0,0.0)">o</text>
<text x="173.3" y="1378.6" font-size="43.0">C</text>
<text x="109.9" y="1450.8" font-size="43.0" textLength="45.5" lengthAdjust="spacingAndGlyphs">40</text>
<text x="0.0" y="0.0" font-size="26" transform="translate(160.6,1409.2) scale(1.1,0.85) translate(0.0,0.0)">o</text>
<text x="173.3" y="1450.8" font-size="43.0">C</text>
<text x="108.9" y="1516.7" font-size="43.0" textLength="45.5" lengthAdjust="spacingAndGlyphs">30</text>
<text x="0.0" y="0.0" font-size="26" transform="translate(160.6,1475.1) scale(1.1,0.85) translate(0.0,0.0)">o</text>
<text x="173.3" y="1516.7" font-size="43.0">C</text>
<line x1="2259.3" y1="347.8" x2="2259.3" y2="820.8" stroke="#000" stroke-width="5.5"/>
<path d="M2259.3,308.4 L2247.5,349.8 L2271.1,349.8 Z" fill="#000" stroke="#000" stroke-width="2" stroke-linejoin="round"/>
<line x1="2260.7" y1="927.2" x2="2260.7" y2="1521.0" stroke="#000" stroke-width="5.5"/>
<path d="M2260.7,888.9 L2249.1,929.2 L2272.3,929.2 Z" fill="#000" stroke="#000" stroke-width="2" stroke-linejoin="round"/>
<text x="0" y="0" font-size="66.0" font-weight="bold" text-anchor="middle" textLength="216.6" lengthAdjust="spacingAndGlyphs" transform="translate(2326.6,567.7) rotate(-90)">Cooling</text>
<text x="0" y="0" font-size="66.0" font-weight="bold" text-anchor="middle" textLength="216.0" lengthAdjust="spacingAndGlyphs" transform="translate(2323.8,1248.9) rotate(-90)">Heating</text>
<text x="897.1" y="1812.4" font-size="65.0" font-weight="bold">Wavenumber</text>
<text x="1289.8" y="1813.4" font-size="50">(</text>
<text x="1306.5" y="1812.4" font-size="65.0" font-weight="bold">cm</text>
<text x="1391.5" y="1743.4" font-size="35" font-weight="bold">-1</text>
<text x="1416.4" y="1813.4" font-size="50">)</text>
<text x="1194.5" y="1944.2" font-size="86" text-anchor="middle">(<tspan font-weight="bold">a</tspan>)</text>
<rect x="66.2" y="1998.8" width="2181.8" height="1600.8" fill="none" stroke="#000" stroke-width="4.6"/>
<path d="M68.0,2295.6 C76.1,2295.3 84.2,2295.2 92.3,2294.7 C108.5,2293.7 124.7,2283.2 140.9,2281.4 C161.1,2279.2 181.3,2279.2 201.5,2277.4 C216.3,2276.1 231.2,2274.8 246.0,2271.3 C255.4,2269.1 264.9,2253.8 274.3,2253.1 C281.0,2252.6 287.8,2252.3 294.5,2252.3 C308.0,2252.3 321.5,2252.6 335.0,2253.1 C345.8,2253.5 356.5,2258.4 367.3,2258.4 C382.1,2258.4 397.0,2257.8 411.8,2257.1 C436.0,2256.0 460.3,2250.6 484.5,2248.2 C504.7,2246.2 525.0,2245.3 545.2,2243.0 C565.4,2240.7 585.6,2236.1 605.8,2232.9 C619.2,2230.8 632.6,2228.9 646.0,2226.7 C668.3,2223.1 690.5,2219.4 712.8,2215.0 C734.4,2210.7 755.9,2205.9 777.5,2200.4 C799.1,2194.9 820.6,2184.1 842.2,2181.4 C862.4,2178.9 882.6,2176.6 902.8,2176.6 C923.0,2176.6 943.3,2178.7 963.5,2180.2 C983.7,2181.7 1003.9,2184.7 1024.1,2186.3 C1036.2,2187.3 1048.4,2188.7 1060.5,2188.7 C1066.6,2188.7 1072.6,2186.2 1078.7,2181.4 C1082.1,2178.8 1085.4,2155.0 1088.8,2143.0 C1092.8,2128.6 1096.9,2113.3 1100.9,2102.6 C1103.6,2095.4 1106.3,2084.4 1109.0,2084.4 C1112.4,2084.4 1115.7,2095.4 1119.1,2106.6 C1121.1,2113.4 1123.2,2135.8 1125.2,2143.0 C1129.2,2157.2 1133.3,2169.0 1137.3,2171.3 C1141.3,2173.6 1145.4,2175.3 1149.4,2175.3 C1158.8,2175.3 1168.3,2173.1 1177.7,2171.3 C1189.8,2169.0 1202.0,2160.7 1214.1,2160.0 C1222.7,2159.5 1231.4,2159.7 1240.0,2159.2 C1246.8,2158.8 1253.6,2153.7 1260.4,2151.1 C1279.3,2143.9 1298.1,2135.4 1317.0,2130.9 C1333.2,2127.0 1349.4,2124.7 1365.6,2122.0 C1381.8,2119.3 1397.9,2118.1 1414.1,2114.7 C1430.3,2111.3 1446.4,2104.7 1462.6,2097.7 C1473.4,2093.1 1484.1,2086.8 1494.9,2080.3 C1499.0,2077.8 1503.0,2072.2 1507.1,2072.2 C1523.3,2072.2 1539.4,2072.4 1555.6,2073.0 C1562.3,2073.2 1569.1,2075.8 1575.8,2078.3 C1583.9,2081.3 1591.9,2088.0 1600.0,2094.5 C1608.1,2101.0 1616.2,2110.6 1624.3,2118.7 C1633.7,2128.1 1643.2,2138.3 1652.6,2147.0 C1666.1,2159.4 1679.5,2171.9 1693.0,2181.4 C1706.5,2190.9 1720.0,2200.3 1733.5,2205.7 C1748.3,2211.6 1763.2,2219.0 1778.0,2219.0 C1792.0,2219.0 1806.0,2219.0 1820.0,2219.0 C1834.0,2219.0 1848.0,2221.1 1862.0,2221.1 C1870.3,2221.1 1878.5,2213.7 1886.8,2213.7 C1904.4,2213.7 1921.9,2220.5 1939.5,2220.5 C1955.0,2220.5 1970.5,2219.0 1986.0,2217.4 C2000.5,2215.9 2014.9,2207.4 2029.4,2206.5 C2043.9,2205.6 2058.3,2205.5 2072.8,2205.0 C2089.3,2204.4 2105.9,2203.4 2122.4,2203.4 C2128.6,2203.4 2134.8,2203.4 2141.0,2203.4 C2147.2,2203.4 2153.4,2218.1 2159.6,2228.2 C2163.7,2234.9 2167.9,2253.0 2172.0,2253.0 C2176.1,2253.0 2180.3,2225.1 2184.4,2225.1 C2189.6,2225.1 2194.7,2228.8 2199.9,2232.9 C2204.0,2236.2 2208.2,2254.6 2212.3,2254.6 C2214.2,2254.6 2216.1,2222.7 2218.0,2210.0 C2219.7,2198.7 2221.4,2180.2 2223.1,2180.2 C2224.7,2180.2 2226.2,2195.8 2227.8,2201.9 C2231.9,2218.1 2236.1,2223.1 2240.2,2242.2 C2242.3,2251.8 2244.3,2271.1 2246.4,2285.6" fill="none" stroke="#008080" stroke-width="3.0" stroke-linejoin="round" stroke-dasharray="22 11 3.5 10.7" stroke-dashoffset="0.0"/>
<path d="M68.0,2380.5 C92.3,2376.4 116.6,2370.9 140.9,2368.3 C173.2,2364.9 205.6,2365.6 237.9,2361.0 C251.4,2359.1 264.8,2343.3 278.3,2343.3 C297.2,2343.3 316.1,2343.6 335.0,2344.0 C348.5,2344.3 361.9,2348.1 375.4,2348.1 C388.9,2348.1 402.3,2348.1 415.8,2348.1 C438.7,2348.1 461.6,2344.0 484.5,2342.0 C504.7,2340.2 525.0,2338.8 545.2,2336.8 C580.2,2333.4 615.3,2329.4 650.3,2324.7 C671.1,2321.9 692.0,2318.4 712.8,2314.8 C734.4,2311.1 755.9,2307.2 777.5,2302.7 C801.7,2297.6 826.0,2286.0 850.2,2285.3 C867.7,2284.8 885.3,2284.5 902.8,2284.5 C923.0,2284.5 943.3,2287.7 963.5,2289.4 C983.7,2291.1 1003.9,2292.2 1024.1,2294.6 C1033.5,2295.7 1043.0,2299.5 1052.4,2299.5 C1061.2,2299.5 1069.9,2298.2 1078.7,2294.6 C1082.1,2293.2 1085.4,2267.5 1088.8,2256.2 C1092.8,2242.6 1096.9,2228.8 1100.9,2219.8 C1104.3,2212.3 1107.6,2201.6 1111.0,2201.6 C1114.4,2201.6 1117.7,2216.2 1121.1,2227.9 C1123.8,2237.2 1126.5,2263.4 1129.2,2268.3 C1134.6,2278.0 1140.0,2284.5 1145.4,2284.5 C1156.2,2284.5 1166.9,2283.4 1177.7,2282.5 C1198.5,2280.8 1219.2,2278.1 1240.0,2274.4 C1250.9,2272.5 1261.7,2269.3 1272.6,2266.3 C1288.8,2261.8 1304.9,2254.2 1321.1,2250.9 C1335.9,2247.9 1350.8,2246.3 1365.6,2244.1 C1384.5,2241.3 1403.3,2239.8 1422.2,2236.0 C1438.4,2232.7 1454.5,2225.9 1470.7,2219.8 C1484.2,2214.7 1497.6,2202.8 1511.1,2202.4 C1528.6,2201.9 1546.2,2201.6 1563.7,2201.6 C1577.2,2201.6 1590.6,2212.3 1604.1,2219.8 C1618.9,2228.0 1633.8,2242.2 1648.6,2252.2 C1664.8,2263.1 1680.9,2274.9 1697.1,2282.5 C1713.3,2290.1 1729.4,2297.7 1745.6,2300.7 C1761.8,2303.7 1777.9,2306.7 1794.1,2306.7 C1802.7,2306.7 1811.4,2305.4 1820.0,2304.7 C1844.3,2302.7 1868.7,2298.0 1893.0,2298.0 C1911.6,2298.0 1930.2,2305.7 1948.8,2305.7 C1981.9,2305.7 2014.9,2298.0 2048.0,2298.0 C2063.5,2298.0 2079.0,2302.6 2094.5,2302.6 C2107.9,2302.6 2121.4,2294.9 2134.8,2294.9 C2138.9,2294.9 2143.1,2310.4 2147.2,2310.4 C2152.4,2310.4 2157.5,2310.4 2162.7,2310.4 C2166.8,2310.4 2171.0,2332.1 2175.1,2332.1 C2180.3,2332.1 2185.4,2307.3 2190.6,2307.3 C2196.8,2307.3 2203.0,2325.9 2209.2,2325.9 C2211.3,2325.9 2213.3,2305.0 2215.4,2298.0 C2218.5,2287.4 2221.6,2273.2 2224.7,2273.2 C2227.8,2273.2 2230.9,2316.4 2234.0,2329.0 C2238.1,2345.8 2242.3,2353.8 2246.4,2366.2" fill="none" stroke="#00FFFF" stroke-width="3.0" stroke-linejoin="round" stroke-dasharray="22 11 3.5 10.7" stroke-dashoffset="0.0"/>
<path d="M68.0,2452.4 C92.3,2448.6 116.6,2442.9 140.9,2441.1 C175.9,2438.5 211.0,2439.7 246.0,2436.3 C258.1,2435.1 270.3,2418.9 282.4,2418.9 C299.9,2418.9 317.5,2419.9 335.0,2420.9 C351.2,2421.9 367.3,2427.0 383.5,2427.0 C397.0,2427.0 410.4,2426.3 423.9,2425.7 C450.9,2424.5 477.8,2421.3 504.8,2418.9 C553.3,2414.7 601.8,2410.0 650.3,2405.5 C671.1,2403.6 692.0,2402.2 712.8,2399.7 C735.7,2396.9 758.6,2391.8 781.5,2387.6 C804.4,2383.4 827.3,2374.9 850.2,2374.3 C867.7,2373.8 885.3,2373.5 902.8,2373.5 C923.0,2373.5 943.3,2375.7 963.5,2377.5 C983.7,2379.3 1003.9,2382.8 1024.1,2385.6 C1033.5,2386.9 1043.0,2389.6 1052.4,2389.6 C1061.2,2389.6 1069.9,2388.6 1078.7,2385.6 C1082.1,2384.5 1085.4,2356.1 1088.8,2345.2 C1092.8,2332.2 1096.9,2320.7 1100.9,2312.8 C1103.6,2307.5 1106.3,2299.9 1109.0,2299.9 C1113.0,2299.9 1117.1,2313.8 1121.1,2325.0 C1123.8,2332.5 1126.5,2352.3 1129.2,2357.3 C1134.6,2367.4 1140.0,2375.5 1145.4,2375.5 C1176.9,2375.5 1208.5,2373.3 1240.0,2370.2 C1250.9,2369.1 1261.7,2365.8 1272.6,2363.3 C1288.8,2359.6 1304.9,2354.4 1321.1,2351.2 C1335.9,2348.3 1350.8,2346.0 1365.6,2343.9 C1384.5,2341.3 1403.3,2340.2 1422.2,2337.1 C1438.4,2334.4 1454.5,2330.0 1470.7,2324.9 C1484.2,2320.6 1497.6,2309.4 1511.1,2308.0 C1530.0,2306.0 1548.8,2304.7 1567.7,2304.7 C1581.2,2304.7 1594.6,2313.4 1608.1,2318.9 C1625.6,2326.1 1643.2,2337.6 1660.7,2345.2 C1678.2,2352.8 1695.8,2360.9 1713.3,2365.4 C1730.8,2369.9 1748.3,2374.6 1765.8,2375.5 C1777.9,2376.2 1790.1,2376.7 1802.2,2376.7 C1808.1,2376.7 1814.1,2374.3 1820.0,2373.5 C1844.3,2370.2 1868.7,2366.2 1893.0,2366.2 C1911.6,2366.2 1930.2,2374.9 1948.8,2374.9 C1981.9,2374.9 2014.9,2370.8 2048.0,2370.8 C2063.5,2370.8 2079.0,2380.1 2094.5,2380.1 C2107.9,2380.1 2121.4,2372.4 2134.8,2372.4 C2142.0,2372.4 2149.3,2381.6 2156.5,2387.9 C2162.7,2393.3 2168.9,2408.0 2175.1,2408.0 C2178.2,2408.0 2181.3,2382.9 2184.4,2381.7 C2189.6,2379.6 2194.7,2378.6 2199.9,2378.6 C2204.0,2378.6 2208.2,2391.0 2212.3,2391.0 C2213.8,2391.0 2215.4,2363.1 2216.9,2363.1 C2220.5,2363.1 2224.2,2382.1 2227.8,2391.0 C2230.9,2398.6 2234.0,2405.5 2237.1,2412.7 C2240.2,2419.9 2243.3,2427.2 2246.4,2434.4" fill="none" stroke="#8000FF" stroke-width="3.0" stroke-linejoin="round" stroke-dasharray="22 11 3.5 10.7" stroke-dashoffset="0.0"/>
<path d="M68.0,2528.0 C92.3,2524.9 116.6,2520.6 140.9,2518.7 C175.9,2516.0 211.0,2516.8 246.0,2513.1 C259.5,2511.7 272.9,2497.7 286.4,2497.7 C302.6,2497.7 318.8,2498.7 335.0,2499.7 C351.2,2500.7 367.3,2505.8 383.5,2505.8 C472.4,2505.8 561.4,2496.7 650.3,2489.6 C671.1,2487.9 692.0,2486.1 712.8,2483.4 C735.7,2480.4 758.6,2474.0 781.5,2470.5 C804.4,2467.0 827.3,2462.5 850.2,2461.6 C867.7,2460.9 885.3,2460.4 902.8,2460.4 C923.0,2460.4 943.3,2463.3 963.5,2465.2 C983.7,2467.1 1003.9,2469.8 1024.1,2472.5 C1033.5,2473.8 1043.0,2476.6 1052.4,2476.6 C1061.2,2476.6 1069.9,2475.5 1078.7,2472.5 C1082.1,2471.3 1085.4,2445.4 1088.8,2434.1 C1092.8,2420.5 1096.9,2402.7 1100.9,2397.7 C1104.3,2393.5 1107.6,2389.6 1111.0,2389.6 C1114.4,2389.6 1117.7,2397.3 1121.1,2405.8 C1123.8,2412.6 1126.5,2446.2 1129.2,2450.3 C1134.6,2458.5 1140.0,2463.2 1145.4,2463.2 C1176.9,2463.2 1208.5,2462.2 1240.0,2460.4 C1253.5,2459.6 1267.1,2455.0 1280.6,2452.3 C1298.1,2448.9 1315.7,2445.1 1333.2,2442.2 C1346.7,2439.9 1360.1,2437.7 1373.6,2436.1 C1393.8,2433.6 1414.1,2433.2 1434.3,2430.1 C1449.1,2427.8 1464.0,2420.6 1478.8,2415.9 C1492.3,2411.6 1505.7,2404.5 1519.2,2403.0 C1536.7,2401.1 1554.3,2399.7 1571.8,2399.7 C1589.3,2399.7 1606.8,2408.4 1624.3,2413.9 C1639.1,2418.5 1654.0,2425.7 1668.8,2430.1 C1687.7,2435.7 1706.5,2442.2 1725.4,2444.2 C1745.6,2446.4 1765.8,2448.3 1786.0,2448.3 C1797.3,2448.3 1808.7,2445.4 1820.0,2444.2 C1844.3,2441.6 1868.7,2437.5 1893.0,2437.5 C1911.6,2437.5 1930.2,2446.8 1948.8,2446.8 C1981.9,2446.8 2014.9,2445.2 2048.0,2445.2 C2064.5,2445.2 2081.1,2453.0 2097.6,2453.0 C2110.0,2453.0 2122.4,2449.9 2134.8,2449.9 C2143.1,2449.9 2151.3,2458.4 2159.6,2465.4 C2164.8,2469.8 2169.9,2484.0 2175.1,2484.0 C2179.2,2484.0 2183.4,2466.1 2187.5,2462.3 C2192.7,2457.6 2197.8,2453.0 2203.0,2453.0 C2206.1,2453.0 2209.2,2468.5 2212.3,2468.5 C2216.4,2468.5 2220.6,2428.2 2224.7,2428.2 C2229.9,2428.2 2235.0,2455.6 2240.2,2474.7 C2242.3,2482.4 2244.3,2493.3 2246.4,2502.6" fill="none" stroke="#800080" stroke-width="3.0" stroke-linejoin="round" stroke-dasharray="22 11 3.5 10.7" stroke-dashoffset="0.0"/>
<path d="M68.0,2604.9 C92.3,2601.9 116.6,2597.8 140.9,2596.0 C175.9,2593.4 211.0,2594.1 246.0,2590.7 C259.5,2589.4 272.9,2577.8 286.4,2577.8 C302.6,2577.8 318.8,2578.6 335.0,2579.4 C351.2,2580.2 367.3,2584.6 383.5,2584.6 C472.4,2584.6 561.4,2578.0 650.3,2572.5 C671.1,2571.2 692.0,2569.8 712.8,2567.5 C739.7,2564.5 766.7,2556.2 793.6,2552.6 C812.5,2550.1 831.3,2546.5 850.2,2546.5 C867.7,2546.5 885.3,2546.5 902.8,2546.5 C923.0,2546.5 943.3,2549.6 963.5,2551.4 C983.7,2553.2 1003.9,2555.9 1024.1,2557.4 C1040.3,2558.6 1056.4,2560.3 1072.6,2560.3 C1075.3,2560.3 1078.0,2558.1 1080.7,2555.4 C1084.7,2551.4 1088.8,2516.4 1092.8,2506.9 C1098.2,2494.2 1103.6,2480.6 1109.0,2480.6 C1113.0,2480.6 1117.1,2489.7 1121.1,2498.8 C1123.8,2504.9 1126.5,2527.0 1129.2,2531.1 C1135.9,2541.4 1142.7,2548.1 1149.4,2548.1 C1179.6,2548.1 1209.8,2548.1 1240.0,2548.1 C1253.5,2548.1 1267.1,2544.8 1280.6,2542.5 C1298.1,2539.6 1315.7,2533.9 1333.2,2531.1 C1346.7,2528.9 1360.1,2527.5 1373.6,2525.9 C1393.8,2523.4 1414.1,2522.3 1434.3,2519.0 C1449.1,2516.6 1464.0,2511.0 1478.8,2506.9 C1492.3,2503.2 1505.7,2497.4 1519.2,2495.6 C1538.1,2493.0 1556.9,2490.7 1575.8,2490.7 C1592.0,2490.7 1608.1,2496.3 1624.3,2499.6 C1639.1,2502.6 1654.0,2507.1 1668.8,2509.7 C1687.7,2513.0 1706.5,2517.6 1725.4,2517.8 C1745.6,2518.1 1765.8,2518.2 1786.0,2518.2 C1797.3,2518.2 1808.7,2516.8 1820.0,2515.8 C1844.3,2513.7 1868.7,2507.2 1893.0,2507.2 C1913.7,2507.2 1934.3,2515.8 1955.0,2516.5 C1986.0,2517.5 2017.0,2517.0 2048.0,2518.1 C2064.5,2518.7 2081.1,2530.5 2097.6,2530.5 C2111.0,2530.5 2124.5,2524.3 2137.9,2524.3 C2142.0,2524.3 2146.2,2537.0 2150.3,2539.8 C2157.5,2544.6 2164.7,2549.1 2171.9,2549.1 C2176.1,2549.1 2180.2,2537.3 2184.4,2533.6 C2190.6,2528.1 2196.8,2521.2 2203.0,2521.2 C2206.6,2521.2 2210.2,2533.6 2213.8,2533.6 C2217.4,2533.6 2221.1,2477.8 2224.7,2477.8 C2227.8,2477.8 2230.9,2518.6 2234.0,2533.6 C2238.1,2553.6 2242.3,2566.7 2246.4,2583.2" fill="none" stroke="#FF8000" stroke-width="3.0" stroke-linejoin="round" stroke-dasharray="22 11 3.5 10.7" stroke-dashoffset="0.0"/>
<path d="M68.0,2683.7 C92.3,2681.4 116.6,2677.7 140.9,2676.8 C175.9,2675.5 211.0,2676.1 246.0,2674.4 C259.5,2673.8 272.9,2663.5 286.4,2663.5 C302.6,2663.5 318.8,2664.6 335.0,2665.5 C351.2,2666.4 367.3,2670.4 383.5,2670.4 C472.4,2670.4 561.4,2666.1 650.3,2662.7 C671.1,2661.9 692.0,2661.1 712.8,2659.7 C742.4,2657.7 772.1,2650.1 801.7,2647.6 C823.3,2645.8 844.8,2643.5 866.4,2643.5 C885.3,2643.5 904.1,2644.2 923.0,2645.1 C943.2,2646.0 963.5,2650.4 983.7,2652.4 C1009.3,2654.9 1034.9,2658.5 1060.5,2658.5 C1066.6,2658.5 1072.6,2657.8 1078.7,2656.5 C1083.4,2655.5 1088.1,2628.3 1092.8,2620.1 C1100.2,2607.1 1107.7,2591.8 1115.1,2591.8 C1118.5,2591.8 1121.8,2615.9 1125.2,2624.1 C1127.9,2630.7 1130.6,2639.2 1133.3,2640.3 C1141.4,2643.7 1149.4,2644.6 1157.5,2645.1 C1185.0,2646.8 1212.5,2647.6 1240.0,2647.6 C1253.5,2647.6 1267.1,2646.2 1280.6,2645.1 C1300.8,2643.4 1321.1,2638.4 1341.3,2636.3 C1361.5,2634.2 1381.7,2633.4 1401.9,2631.4 C1422.1,2629.4 1442.4,2627.1 1462.6,2623.3 C1476.1,2620.7 1489.5,2613.0 1503.0,2611.2 C1519.2,2609.1 1535.3,2608.1 1551.5,2607.2 C1567.7,2606.3 1583.8,2605.1 1600.0,2605.1 C1614.8,2605.1 1629.7,2610.1 1644.5,2612.0 C1659.3,2613.9 1674.2,2616.9 1689.0,2616.9 C1707.9,2616.9 1726.7,2616.9 1745.6,2616.9 C1759.1,2616.9 1772.5,2614.5 1786.0,2613.2 C1797.3,2612.1 1808.7,2611.2 1820.0,2610.0 C1842.3,2607.7 1864.5,2601.8 1886.8,2601.8 C1909.5,2601.8 1932.3,2611.1 1955.0,2611.1 C1991.2,2611.1 2027.3,2611.1 2063.5,2611.1 C2073.8,2611.1 2084.2,2620.6 2094.5,2621.9 C2107.9,2623.6 2121.4,2623.4 2134.8,2625.0 C2146.2,2626.3 2157.5,2632.8 2168.9,2632.8 C2174.1,2632.8 2179.2,2612.6 2184.4,2612.6 C2190.6,2612.6 2196.8,2620.4 2203.0,2620.4 C2206.6,2620.4 2210.2,2617.8 2213.8,2614.2 C2217.4,2610.6 2221.1,2570.8 2224.7,2570.8 C2227.8,2570.8 2230.9,2605.0 2234.0,2617.3 C2238.1,2633.7 2242.3,2644.2 2246.4,2657.6" fill="none" stroke="#000080" stroke-width="3.0" stroke-linejoin="round" stroke-dasharray="22 11 3.5 10.7" stroke-dashoffset="0.0"/>
<path d="M68.0,2750.4 C92.3,2747.7 116.6,2742.8 140.9,2742.3 C175.9,2741.5 211.0,2742.0 246.0,2741.1 C259.5,2740.8 272.9,2729.0 286.4,2729.0 C302.6,2729.0 318.8,2730.0 335.0,2731.0 C351.2,2732.0 367.3,2737.0 383.5,2737.0 C472.4,2737.0 561.4,2732.7 650.3,2728.2 C671.1,2727.1 692.0,2725.2 712.8,2723.2 C739.7,2720.6 766.7,2715.3 793.6,2713.1 C815.2,2711.3 836.7,2709.0 858.3,2709.0 C879.9,2709.0 901.4,2710.0 923.0,2711.1 C943.2,2712.1 963.5,2715.4 983.7,2717.1 C1012.0,2719.5 1040.3,2723.2 1068.6,2723.2 C1072.6,2723.2 1076.7,2719.5 1080.7,2715.1 C1084.7,2710.7 1088.8,2689.0 1092.8,2680.7 C1098.9,2668.3 1104.9,2652.4 1111.0,2652.4 C1115.1,2652.4 1119.1,2664.1 1123.2,2672.6 C1126.6,2679.7 1129.9,2697.2 1133.3,2700.9 C1138.7,2706.7 1144.0,2710.8 1149.4,2711.1 C1179.6,2712.7 1209.8,2713.1 1240.0,2713.1 C1253.5,2713.1 1267.1,2713.1 1280.6,2713.1 C1300.8,2713.1 1321.1,2704.7 1341.3,2701.8 C1361.5,2698.9 1381.7,2697.2 1401.9,2694.9 C1422.1,2692.6 1442.4,2691.3 1462.6,2688.0 C1476.1,2685.8 1489.5,2679.6 1503.0,2677.5 C1524.6,2674.1 1546.1,2670.6 1567.7,2670.6 C1579.8,2670.6 1592.0,2670.6 1604.1,2670.6 C1617.6,2670.6 1631.0,2675.9 1644.5,2677.5 C1662.0,2679.5 1679.6,2682.0 1697.1,2682.0 C1713.3,2682.0 1729.4,2681.3 1745.6,2680.7 C1770.4,2679.8 1795.2,2678.4 1820.0,2676.7 C1844.3,2675.0 1868.7,2670.0 1893.0,2670.0 C1913.7,2670.0 1934.3,2677.1 1955.0,2677.7 C1991.2,2678.7 2027.3,2678.1 2063.5,2679.3 C2073.8,2679.6 2084.2,2688.6 2094.5,2688.6 C2107.9,2688.6 2121.4,2685.5 2134.8,2685.5 C2147.2,2685.5 2159.6,2704.0 2172.0,2704.0 C2177.2,2704.0 2182.3,2684.0 2187.5,2684.0 C2193.7,2684.0 2199.8,2686.8 2206.0,2690.1 C2208.6,2691.5 2211.2,2697.9 2213.8,2697.9 C2217.4,2697.9 2221.1,2635.9 2224.7,2635.9 C2227.8,2635.9 2230.9,2705.2 2234.0,2713.4 C2238.1,2724.3 2242.3,2725.8 2246.4,2732.0" fill="none" stroke="#008000" stroke-width="3.0" stroke-linejoin="round" stroke-dasharray="22 11 3.5 10.7" stroke-dashoffset="0.0"/>
<path d="M68.0,2822.0 C92.3,2819.3 116.6,2814.4 140.9,2813.9 C175.9,2813.1 211.0,2813.6 246.0,2812.7 C258.1,2812.4 270.3,2799.7 282.4,2799.7 C299.9,2799.7 317.5,2801.3 335.0,2802.6 C351.2,2803.8 367.3,2806.6 383.5,2807.8 C394.3,2808.6 405.0,2809.8 415.8,2809.8 C445.5,2809.8 475.1,2806.6 504.8,2805.4 C553.3,2803.4 601.8,2803.1 650.3,2800.5 C671.1,2799.4 692.0,2796.4 712.8,2794.0 C739.7,2790.9 766.7,2785.5 793.6,2783.8 C815.2,2782.4 836.7,2781.0 858.3,2781.0 C879.9,2781.0 901.4,2781.7 923.0,2782.6 C943.2,2783.4 963.5,2788.0 983.7,2789.9 C1010.6,2792.4 1037.6,2796.0 1064.5,2796.0 C1069.9,2796.0 1075.3,2793.7 1080.7,2789.9 C1084.7,2787.1 1088.8,2761.7 1092.8,2753.5 C1098.2,2742.5 1103.6,2729.3 1109.0,2729.3 C1113.0,2729.3 1117.1,2735.0 1121.1,2741.4 C1123.8,2745.7 1126.5,2763.7 1129.2,2767.7 C1134.6,2775.6 1140.0,2781.2 1145.4,2781.8 C1176.9,2785.1 1208.5,2785.9 1240.0,2785.9 C1253.5,2785.9 1267.1,2783.9 1280.6,2782.6 C1300.8,2780.6 1321.1,2777.1 1341.3,2775.0 C1361.5,2772.9 1381.7,2771.9 1401.9,2769.7 C1422.1,2767.5 1442.4,2764.3 1462.6,2760.8 C1482.8,2757.3 1503.0,2750.9 1523.2,2748.3 C1543.4,2745.7 1563.7,2742.6 1583.9,2742.6 C1604.1,2742.6 1624.3,2746.6 1644.5,2748.7 C1664.7,2750.8 1685.0,2755.5 1705.2,2755.5 C1725.4,2755.5 1745.6,2754.5 1765.8,2753.5 C1783.9,2752.6 1801.9,2749.6 1820.0,2747.5 C1840.2,2745.1 1860.4,2739.7 1880.6,2739.7 C1905.4,2739.7 1930.2,2746.9 1955.0,2747.5 C1991.2,2748.4 2027.3,2747.9 2063.5,2749.0 C2076.9,2749.4 2090.4,2766.0 2103.8,2766.0 C2114.1,2766.0 2124.5,2759.9 2134.8,2759.9 C2147.2,2759.9 2159.6,2775.3 2172.0,2775.3 C2177.2,2775.3 2182.3,2763.4 2187.5,2759.9 C2192.7,2756.4 2197.8,2752.1 2203.0,2752.1 C2206.6,2752.1 2210.2,2763.0 2213.8,2763.0 C2217.4,2763.0 2221.1,2732.0 2224.7,2732.0 C2227.8,2732.0 2230.9,2770.2 2234.0,2778.4 C2238.1,2789.4 2242.3,2792.9 2246.4,2800.2" fill="none" stroke="#FF0080" stroke-width="3.0" stroke-linejoin="round" stroke-dasharray="22 11 3.5 10.7" stroke-dashoffset="0.0"/>
<path d="M68.0,2889.5 C92.3,2886.8 116.6,2882.2 140.9,2881.4 C175.9,2880.2 211.0,2880.9 246.0,2879.4 C258.1,2878.9 270.3,2868.1 282.4,2868.1 C299.9,2868.1 317.5,2869.3 335.0,2870.5 C351.2,2871.6 367.3,2875.7 383.5,2876.1 C397.0,2876.4 410.4,2876.6 423.9,2876.6 C499.4,2876.6 574.8,2872.9 650.3,2869.3 C671.1,2868.3 692.0,2866.8 712.8,2864.9 C739.7,2862.5 766.7,2857.4 793.6,2854.8 C815.2,2852.7 836.7,2849.5 858.3,2849.5 C879.9,2849.5 901.4,2852.0 923.0,2853.6 C943.2,2855.1 963.5,2857.1 983.7,2858.8 C1009.3,2860.9 1034.9,2864.9 1060.5,2864.9 C1067.2,2864.9 1074.0,2864.3 1080.7,2862.9 C1084.7,2862.1 1088.8,2833.3 1092.8,2824.5 C1098.9,2811.3 1104.9,2795.4 1111.0,2795.4 C1114.4,2795.4 1117.7,2812.9 1121.1,2820.4 C1125.2,2829.4 1129.2,2841.4 1133.3,2844.7 C1137.3,2847.9 1141.4,2850.5 1145.4,2850.8 C1172.4,2853.0 1199.3,2853.2 1226.3,2853.6 C1240.4,2853.8 1254.4,2854.0 1268.5,2854.0 C1286.0,2854.0 1303.6,2846.3 1321.1,2844.7 C1335.9,2843.3 1350.8,2843.0 1365.6,2841.9 C1384.5,2840.5 1403.3,2838.8 1422.2,2836.6 C1435.7,2835.0 1449.1,2833.2 1462.6,2830.5 C1476.1,2827.8 1489.5,2820.5 1503.0,2818.4 C1527.3,2814.6 1551.5,2811.1 1575.8,2811.1 C1592.0,2811.1 1608.1,2814.7 1624.3,2816.4 C1644.5,2818.5 1664.8,2822.5 1685.0,2822.5 C1705.2,2822.5 1725.4,2822.0 1745.6,2821.6 C1770.4,2821.1 1795.2,2820.0 1820.0,2818.4 C1842.3,2816.9 1864.5,2809.4 1886.8,2809.4 C1909.5,2809.4 1932.3,2817.8 1955.0,2817.8 C1980.8,2817.8 2006.7,2817.2 2032.5,2817.2 C2051.1,2817.2 2069.7,2821.9 2088.3,2825.0 C2100.7,2827.1 2113.1,2830.3 2125.5,2832.7 C2133.8,2834.3 2142.0,2837.3 2150.3,2837.3 C2155.5,2837.3 2160.6,2826.5 2165.8,2826.5 C2168.9,2826.5 2172.0,2848.2 2175.1,2848.2 C2180.3,2848.2 2185.4,2820.3 2190.6,2820.3 C2194.7,2820.3 2198.9,2821.7 2203.0,2823.4 C2206.6,2824.9 2210.2,2835.8 2213.8,2835.8 C2216.9,2835.8 2220.0,2783.1 2223.1,2783.1 C2225.7,2783.1 2228.3,2826.3 2230.9,2832.7 C2236.1,2845.5 2241.2,2847.2 2246.4,2854.4" fill="none" stroke="#800000" stroke-width="3.0" stroke-linejoin="round" stroke-dasharray="22 11 3.5 10.7" stroke-dashoffset="0.0"/>
<path d="M68.0,2959.4 C76.1,2960.4 84.2,2962.3 92.3,2962.3 C108.5,2962.3 124.7,2955.1 140.9,2954.2 C175.9,2952.2 211.0,2953.3 246.0,2951.0 C258.1,2950.2 270.3,2938.8 282.4,2938.8 C297.2,2938.8 312.1,2940.0 326.9,2941.2 C340.4,2942.3 353.8,2947.5 367.3,2948.1 C384.8,2948.8 402.3,2949.3 419.8,2949.3 C448.1,2949.3 476.5,2946.6 504.8,2945.3 C553.3,2943.1 601.8,2941.1 650.3,2938.8 C671.1,2937.8 692.0,2937.1 712.8,2935.7 C739.7,2933.9 766.7,2928.8 793.6,2926.4 C816.5,2924.4 839.5,2921.5 862.4,2921.5 C879.9,2921.5 897.4,2922.5 914.9,2923.5 C937.8,2924.8 960.8,2929.0 983.7,2931.6 C1005.3,2934.1 1026.8,2938.9 1048.4,2938.9 C1058.5,2938.9 1068.6,2938.6 1078.7,2937.7 C1084.8,2937.2 1090.8,2901.1 1096.9,2889.2 C1101.6,2880.0 1106.3,2866.9 1111.0,2866.9 C1113.7,2866.9 1116.4,2869.7 1119.1,2873.0 C1122.5,2877.1 1125.8,2904.1 1129.2,2909.4 C1133.3,2915.8 1137.3,2920.8 1141.4,2921.5 C1149.5,2922.9 1157.5,2923.0 1165.6,2923.5 C1190.4,2924.9 1215.2,2926.4 1240.0,2926.4 C1249.5,2926.4 1259.0,2926.4 1268.5,2926.4 C1286.0,2926.4 1303.6,2920.3 1321.1,2918.3 C1335.9,2916.6 1350.8,2915.5 1365.6,2914.2 C1387.1,2912.3 1408.7,2911.4 1430.2,2908.6 C1454.5,2905.5 1478.7,2892.9 1503.0,2890.0 C1527.3,2887.1 1551.5,2884.3 1575.8,2884.3 C1592.0,2884.3 1608.1,2886.7 1624.3,2888.4 C1645.9,2890.6 1667.4,2897.3 1689.0,2897.3 C1703.8,2897.3 1718.7,2897.3 1733.5,2897.3 C1749.7,2897.3 1765.8,2896.4 1782.0,2895.2 C1794.7,2894.3 1807.3,2889.3 1820.0,2888.4 C1836.3,2887.3 1852.7,2888.0 1869.0,2886.4 C1871.8,2886.2 1874.7,2880.7 1877.5,2880.7 C1880.3,2880.7 1883.2,2883.0 1886.0,2883.5 C1903.8,2886.5 1921.7,2888.5 1939.5,2888.5 C1970.5,2888.5 2001.5,2888.5 2032.5,2888.5 C2050.1,2888.5 2067.6,2889.9 2085.2,2893.1 C2089.3,2893.9 2093.5,2900.6 2097.6,2901.5 C2104.8,2903.0 2112.1,2904.0 2119.3,2904.0 C2127.6,2904.0 2135.8,2896.2 2144.1,2896.2 C2151.3,2896.2 2158.6,2896.2 2165.8,2896.2 C2168.4,2896.2 2170.9,2917.9 2173.5,2917.9 C2178.2,2917.9 2182.8,2891.6 2187.5,2891.6 C2191.6,2891.6 2195.8,2897.8 2199.9,2897.8 C2202.0,2897.8 2204.0,2893.1 2206.1,2893.1 C2208.2,2893.1 2210.2,2904.0 2212.3,2904.0 C2213.3,2904.0 2214.4,2881.8 2215.4,2876.1 C2218.0,2862.0 2220.5,2848.2 2223.1,2848.2 C2225.7,2848.2 2228.3,2887.2 2230.9,2897.8 C2233.5,2908.3 2236.0,2921.0 2238.6,2921.0 C2240.7,2921.0 2242.7,2900.9 2244.8,2900.9 C2245.8,2900.9 2246.9,2915.4 2247.9,2922.6" fill="none" stroke="#000080" stroke-width="3.0" stroke-linejoin="round"/>
<path d="M68.0,3037.0 C92.3,3034.7 116.6,3031.5 140.9,3030.2 C175.9,3028.3 211.0,3028.9 246.0,3026.2 C258.1,3025.3 270.3,3015.6 282.4,3015.6 C299.9,3015.6 317.5,3017.1 335.0,3018.9 C345.8,3020.0 356.5,3025.9 367.3,3026.2 C384.8,3026.7 402.3,3027.0 419.8,3027.0 C448.1,3027.0 476.5,3024.9 504.8,3023.7 C553.3,3021.7 601.8,3019.7 650.3,3016.9 C671.1,3015.7 692.0,3014.4 712.8,3012.5 C739.7,3010.1 766.7,3004.2 793.6,3002.4 C816.5,3000.8 839.5,2999.1 862.4,2999.1 C879.9,2999.1 897.4,2999.7 914.9,3000.4 C937.8,3001.3 960.8,3005.8 983.7,3008.4 C1005.3,3010.8 1026.8,3015.3 1048.4,3015.3 C1058.5,3015.3 1068.6,3015.1 1078.7,3014.5 C1084.8,3014.2 1090.8,2974.8 1096.9,2964.0 C1101.6,2955.6 1106.3,2945.0 1111.0,2945.0 C1115.1,2945.0 1119.1,2958.7 1123.2,2966.0 C1129.3,2976.9 1135.3,3000.1 1141.4,3000.4 C1174.3,3002.1 1207.1,3001.0 1240.0,3002.4 C1245.5,3002.6 1250.9,3004.4 1256.4,3004.4 C1278.0,3004.4 1299.5,2996.8 1321.1,2994.3 C1335.9,2992.6 1350.8,2991.3 1365.6,2990.2 C1387.1,2988.6 1408.7,2988.3 1430.2,2986.2 C1454.5,2983.8 1478.7,2969.9 1503.0,2967.2 C1527.3,2964.5 1551.5,2962.0 1575.8,2962.0 C1592.0,2962.0 1608.1,2964.3 1624.3,2966.0 C1645.9,2968.2 1667.4,2975.3 1689.0,2975.3 C1703.8,2975.3 1718.7,2975.3 1733.5,2975.3 C1749.7,2975.3 1765.8,2974.4 1782.0,2973.3 C1794.7,2972.5 1807.3,2968.9 1820.0,2968.0 C1836.3,2966.9 1852.7,2967.6 1869.0,2965.8 C1871.8,2965.5 1874.7,2956.7 1877.5,2956.7 C1880.3,2956.7 1883.2,2962.2 1886.0,2962.7 C1903.8,2966.2 1921.7,2967.5 1939.5,2967.5 C1970.5,2967.5 2001.5,2967.5 2032.5,2967.5 C2049.0,2967.5 2065.6,2967.5 2082.1,2967.5 C2088.3,2967.5 2094.5,2980.9 2100.7,2980.9 C2111.0,2980.9 2121.4,2980.6 2131.7,2979.9 C2136.9,2979.6 2142.0,2971.6 2147.2,2971.6 C2152.4,2971.6 2157.5,2984.6 2162.7,2984.6 C2164.2,2984.6 2165.8,2972.2 2167.3,2972.2 C2169.4,2972.2 2171.4,2997.0 2173.5,2997.0 C2178.2,2997.0 2182.8,2980.6 2187.5,2975.3 C2192.1,2970.1 2196.8,2962.9 2201.4,2962.9 C2204.0,2962.9 2206.6,2973.7 2209.2,2973.7 C2211.3,2973.7 2213.3,2960.7 2215.4,2953.6 C2218.0,2944.8 2220.5,2925.7 2223.1,2925.7 C2225.7,2925.7 2228.3,2961.7 2230.9,2972.2 C2234.0,2984.7 2237.1,3000.1 2240.2,3000.1 C2242.8,3000.1 2245.3,2988.7 2247.9,2983.0" fill="none" stroke="#808000" stroke-width="3.0" stroke-linejoin="round"/>
<path d="M68.0,3117.9 C92.3,3115.6 116.6,3111.9 140.9,3111.0 C171.9,3109.9 202.9,3110.4 233.9,3109.0 C250.1,3108.3 266.2,3096.5 282.4,3096.5 C299.9,3096.5 317.5,3097.3 335.0,3098.5 C345.8,3099.2 356.5,3104.4 367.3,3105.0 C384.8,3106.0 402.3,3106.6 419.8,3106.6 C448.1,3106.6 476.5,3104.0 504.8,3103.0 C553.3,3101.2 601.8,3100.8 650.3,3098.5 C671.1,3097.5 692.0,3095.3 712.8,3093.3 C739.7,3090.7 766.7,3086.1 793.6,3084.0 C815.2,3082.3 836.7,3080.0 858.3,3080.0 C877.2,3080.0 896.0,3080.5 914.9,3081.2 C937.8,3082.0 960.8,3086.7 983.7,3089.3 C1005.3,3091.7 1026.8,3095.7 1048.4,3096.2 C1058.5,3096.4 1068.6,3096.6 1078.7,3096.6 C1084.8,3096.6 1090.8,3058.9 1096.9,3046.9 C1101.6,3037.6 1106.3,3024.6 1111.0,3024.6 C1114.4,3024.6 1117.7,3032.0 1121.1,3038.8 C1124.5,3045.6 1127.8,3071.8 1131.2,3075.2 C1134.6,3078.6 1138.0,3081.0 1141.4,3081.2 C1174.3,3082.9 1207.1,3081.8 1240.0,3083.2 C1245.5,3083.4 1250.9,3085.3 1256.4,3085.3 C1278.0,3085.3 1299.5,3077.7 1321.1,3075.2 C1335.9,3073.5 1350.8,3072.5 1365.6,3071.1 C1387.1,3069.1 1408.7,3067.9 1430.2,3065.0 C1454.5,3061.7 1478.7,3049.9 1503.0,3047.7 C1527.3,3045.5 1551.5,3043.6 1575.8,3043.6 C1592.0,3043.6 1608.1,3045.9 1624.3,3047.7 C1645.9,3050.1 1667.4,3058.2 1689.0,3058.2 C1703.8,3058.2 1718.7,3058.2 1733.5,3058.2 C1749.7,3058.2 1765.8,3057.2 1782.0,3056.1 C1794.7,3055.2 1807.3,3051.9 1820.0,3050.9 C1836.3,3049.7 1852.7,3050.4 1869.0,3048.4 C1871.8,3048.1 1874.7,3040.4 1877.5,3040.4 C1880.3,3040.4 1883.2,3044.7 1886.0,3045.2 C1903.8,3048.4 1921.7,3049.7 1939.5,3049.7 C1970.5,3049.7 2001.5,3049.7 2032.5,3049.7 C2050.1,3049.7 2067.6,3051.2 2085.2,3054.3 C2089.3,3055.0 2093.5,3060.5 2097.6,3060.5 C2109.0,3060.5 2120.3,3060.5 2131.7,3060.5 C2141.0,3060.5 2150.3,3069.8 2159.6,3069.8 C2162.2,3069.8 2164.7,3059.0 2167.3,3059.0 C2169.4,3059.0 2171.4,3076.0 2173.5,3076.0 C2178.2,3076.0 2182.8,3045.0 2187.5,3045.0 C2190.6,3045.0 2193.7,3062.1 2196.8,3062.1 C2198.9,3062.1 2200.9,3043.5 2203.0,3043.5 C2206.6,3043.5 2210.2,3060.5 2213.8,3060.5 C2214.3,3060.5 2214.9,3038.6 2215.4,3034.2 C2218.0,3013.0 2220.5,2998.5 2223.1,2998.5 C2225.7,2998.5 2228.3,3029.2 2230.9,3043.5 C2233.0,3054.8 2235.0,3076.0 2237.1,3076.0 C2239.2,3076.0 2241.2,3049.7 2243.3,3049.7 C2244.8,3049.7 2246.4,3068.3 2247.9,3077.6" fill="none" stroke="#FF00FF" stroke-width="3.0" stroke-linejoin="round"/>
<path d="M68.0,3196.8 C76.1,3197.5 84.2,3198.8 92.3,3198.8 C108.5,3198.8 124.7,3189.6 140.9,3188.7 C171.9,3186.9 202.9,3187.8 233.9,3185.9 C250.1,3184.9 266.2,3171.3 282.4,3171.3 C299.9,3171.3 317.5,3172.3 335.0,3173.7 C345.8,3174.6 356.5,3179.9 367.3,3180.6 C384.8,3181.8 402.3,3182.6 419.8,3182.6 C448.1,3182.6 476.5,3178.4 504.8,3176.6 C553.3,3173.5 601.8,3172.1 650.3,3168.5 C671.1,3166.9 692.0,3164.6 712.8,3162.1 C739.7,3158.9 766.7,3152.4 793.6,3150.0 C815.2,3148.1 836.7,3145.9 858.3,3145.9 C877.2,3145.9 896.0,3146.9 914.9,3147.9 C937.8,3149.1 960.8,3153.9 983.7,3156.0 C1005.3,3158.0 1026.8,3160.9 1048.4,3160.9 C1057.8,3160.9 1067.3,3160.7 1076.7,3160.1 C1083.4,3159.7 1090.2,3116.4 1096.9,3103.5 C1101.2,3095.2 1105.5,3084.0 1109.8,3084.0 C1113.6,3084.0 1117.3,3095.0 1121.1,3103.5 C1125.2,3112.7 1129.2,3141.5 1133.3,3143.9 C1137.3,3146.3 1141.4,3147.9 1145.4,3147.9 C1176.9,3147.9 1208.5,3145.9 1240.0,3145.9 C1245.5,3145.9 1250.9,3147.1 1256.4,3147.1 C1278.0,3147.1 1299.5,3136.5 1321.1,3133.8 C1335.9,3132.0 1350.8,3131.1 1365.6,3129.7 C1387.1,3127.7 1408.7,3126.7 1430.2,3123.7 C1454.5,3120.3 1478.7,3103.7 1503.0,3101.4 C1527.3,3099.1 1551.5,3097.4 1575.8,3097.4 C1592.0,3097.4 1608.1,3103.3 1624.3,3106.7 C1645.9,3111.2 1667.4,3120.0 1689.0,3121.6 C1703.8,3122.7 1718.7,3123.3 1733.5,3123.7 C1749.7,3124.1 1765.8,3124.5 1782.0,3124.5 C1794.7,3124.5 1807.3,3120.4 1820.0,3119.6 C1836.3,3118.5 1852.7,3119.2 1869.0,3117.5 C1871.8,3117.2 1874.7,3107.0 1877.5,3107.0 C1880.3,3107.0 1883.2,3113.9 1886.0,3114.5 C1903.8,3118.2 1921.7,3118.8 1939.5,3119.4 C1970.5,3120.4 2001.5,3121.0 2032.5,3121.0 C2043.9,3121.0 2055.2,3121.0 2066.6,3121.0 C2078.0,3121.0 2089.3,3134.9 2100.7,3134.9 C2112.1,3134.9 2123.4,3124.1 2134.8,3124.1 C2143.1,3124.1 2151.3,3141.1 2159.6,3141.1 C2161.7,3141.1 2163.7,3128.7 2165.8,3128.7 C2168.4,3128.7 2170.9,3155.1 2173.5,3155.1 C2176.1,3155.1 2178.7,3124.5 2181.3,3124.1 C2188.5,3122.9 2195.8,3122.5 2203.0,3122.5 C2206.1,3122.5 2209.2,3133.4 2212.3,3133.4 C2213.3,3133.4 2214.4,3116.5 2215.4,3111.7 C2218.0,3099.7 2220.5,3086.9 2223.1,3086.9 C2225.7,3086.9 2228.3,3133.5 2230.9,3139.6 C2236.6,3152.9 2242.2,3154.1 2247.9,3161.3" fill="none" stroke="#008080" stroke-width="3.0" stroke-linejoin="round"/>
<path d="M68.0,3280.5 C76.1,3281.3 84.2,3282.9 92.3,3282.9 C108.5,3282.9 124.7,3274.3 140.9,3272.4 C171.9,3268.8 202.9,3269.6 233.9,3265.5 C250.1,3263.3 266.2,3247.3 282.4,3247.3 C299.9,3247.3 317.5,3249.5 335.0,3251.4 C345.8,3252.6 356.5,3255.9 367.3,3256.6 C384.8,3257.7 402.3,3258.6 419.8,3258.6 C448.1,3258.6 476.5,3253.0 504.8,3250.6 C553.3,3246.4 601.8,3243.6 650.3,3239.2 C671.1,3237.3 692.0,3235.6 712.8,3232.8 C739.7,3229.2 766.7,3220.7 793.6,3216.7 C816.5,3213.3 839.5,3208.6 862.4,3208.6 C879.9,3208.6 897.4,3208.9 914.9,3209.4 C937.8,3210.0 960.8,3215.5 983.7,3218.7 C1005.3,3221.7 1026.8,3228.0 1048.4,3228.0 C1057.8,3228.0 1067.3,3227.6 1076.7,3226.8 C1083.4,3226.2 1090.2,3178.4 1096.9,3164.1 C1100.9,3155.6 1105.0,3143.9 1109.0,3143.9 C1113.0,3143.9 1117.1,3158.0 1121.1,3168.1 C1125.2,3178.2 1129.2,3206.0 1133.3,3208.6 C1138.0,3211.6 1142.7,3213.4 1147.4,3213.4 C1153.5,3213.4 1159.5,3205.5 1165.6,3205.3 C1190.4,3204.7 1215.2,3204.5 1240.0,3204.5 C1245.5,3204.5 1250.9,3204.5 1256.4,3204.5 C1278.0,3204.5 1299.5,3191.6 1321.1,3188.4 C1335.9,3186.2 1350.8,3185.1 1365.6,3183.5 C1387.1,3181.2 1408.7,3180.3 1430.2,3177.0 C1454.5,3173.2 1478.7,3151.2 1503.0,3151.2 C1527.3,3151.2 1551.5,3151.4 1575.8,3152.0 C1585.2,3152.2 1594.7,3159.6 1604.1,3164.1 C1617.6,3170.5 1631.0,3179.4 1644.5,3186.3 C1659.3,3193.9 1674.2,3203.0 1689.0,3207.8 C1703.8,3212.6 1718.7,3216.4 1733.5,3218.7 C1749.7,3221.2 1765.8,3224.0 1782.0,3224.0 C1794.7,3224.0 1807.3,3221.3 1820.0,3220.7 C1836.3,3219.9 1852.7,3220.4 1869.0,3219.1 C1871.8,3218.9 1874.7,3207.8 1877.5,3207.8 C1880.3,3207.8 1883.2,3215.6 1886.0,3216.3 C1903.8,3220.4 1921.7,3221.7 1939.5,3221.7 C1970.5,3221.7 2001.5,3218.4 2032.5,3215.5 C2043.9,3214.4 2055.2,3210.9 2066.6,3210.9 C2078.0,3210.9 2089.3,3223.3 2100.7,3223.3 C2109.0,3223.3 2117.2,3218.6 2125.5,3218.6 C2136.9,3218.6 2148.2,3234.1 2159.6,3234.1 C2161.7,3234.1 2163.7,3223.3 2165.8,3223.3 C2168.4,3223.3 2170.9,3257.4 2173.5,3257.4 C2178.2,3257.4 2182.8,3226.4 2187.5,3226.4 C2192.7,3226.4 2197.8,3226.4 2203.0,3226.4 C2207.1,3226.4 2211.3,3232.6 2215.4,3232.6 C2218.0,3232.6 2220.5,3192.3 2223.1,3192.3 C2225.7,3192.3 2228.3,3248.1 2230.9,3248.1 C2234.0,3248.1 2237.1,3241.9 2240.2,3241.9 C2242.8,3241.9 2245.3,3277.0 2247.9,3294.6" fill="none" stroke="#0000FF" stroke-width="3.0" stroke-linejoin="round"/>
<path d="M68.0,3376.9 C75.7,3377.1 83.3,3377.6 91.0,3377.6 C95.5,3377.6 99.9,3372.5 104.4,3370.9 C116.1,3366.8 127.8,3364.1 139.5,3362.1 C150.3,3360.3 161.0,3358.6 171.8,3358.0 C183.0,3357.3 194.3,3356.7 205.5,3356.7 C213.1,3356.7 220.8,3358.0 228.4,3358.0 C232.0,3358.0 235.6,3353.6 239.2,3352.0 C247.5,3348.3 255.7,3346.8 264.0,3343.2 C270.1,3340.6 276.3,3333.4 282.4,3333.4 C299.9,3333.4 317.5,3334.0 335.0,3335.0 C345.8,3335.6 356.5,3342.9 367.3,3343.1 C384.8,3343.4 402.3,3343.5 419.8,3343.5 C448.1,3343.5 476.5,3332.7 504.8,3329.0 C553.3,3322.6 601.8,3319.0 650.3,3314.0 C671.1,3311.9 692.0,3310.6 712.8,3307.6 C739.7,3303.7 766.7,3291.6 793.6,3285.4 C815.2,3280.4 836.7,3272.5 858.3,3272.5 C879.9,3272.5 901.4,3272.5 923.0,3272.5 C943.2,3272.5 963.5,3276.7 983.7,3279.3 C1005.3,3282.1 1026.8,3289.4 1048.4,3289.4 C1058.5,3289.4 1068.6,3289.0 1078.7,3287.4 C1082.1,3286.9 1085.4,3236.6 1088.8,3224.8 C1091.5,3215.3 1094.2,3208.6 1096.9,3204.5 C1100.9,3198.3 1105.0,3191.6 1109.0,3191.6 C1112.4,3191.6 1115.7,3205.7 1119.1,3216.7 C1122.5,3227.7 1125.8,3261.2 1129.2,3265.2 C1133.3,3270.1 1137.3,3273.3 1141.4,3273.3 C1149.5,3273.3 1157.5,3265.5 1165.6,3263.2 C1179.1,3259.4 1192.5,3256.4 1206.0,3255.1 C1217.3,3254.0 1228.7,3254.0 1240.0,3253.0 C1249.5,3252.1 1259.0,3250.3 1268.5,3248.2 C1286.0,3244.4 1303.6,3234.5 1321.1,3230.8 C1335.9,3227.7 1350.8,3225.7 1365.6,3223.9 C1376.4,3222.6 1387.1,3222.2 1397.9,3220.7 C1419.5,3217.7 1441.0,3210.1 1462.6,3202.5 C1476.1,3197.8 1489.5,3184.3 1503.0,3184.3 C1521.9,3184.3 1540.7,3185.2 1559.6,3187.1 C1567.7,3187.9 1575.8,3193.6 1583.9,3198.5 C1597.4,3206.7 1610.8,3224.4 1624.3,3236.9 C1637.8,3249.4 1651.2,3262.3 1664.7,3273.3 C1675.5,3282.1 1686.3,3290.3 1697.1,3297.5 C1710.6,3306.5 1724.0,3315.7 1737.5,3321.8 C1752.3,3328.6 1767.2,3338.0 1782.0,3338.0 C1794.7,3338.0 1807.3,3336.3 1820.0,3336.0 C1836.3,3335.7 1852.7,3335.9 1869.0,3335.4 C1871.8,3335.3 1874.7,3325.6 1877.5,3325.6 C1880.3,3325.6 1883.2,3332.1 1886.0,3332.8 C1905.9,3337.7 1925.8,3339.5 1945.7,3339.5 C1974.6,3339.5 2003.6,3331.8 2032.5,3327.1 C2043.9,3325.2 2055.2,3320.9 2066.6,3320.9 C2078.0,3320.9 2089.3,3328.7 2100.7,3328.7 C2112.1,3328.7 2123.4,3317.8 2134.8,3317.8 C2143.1,3317.8 2151.3,3339.5 2159.6,3339.5 C2161.7,3339.5 2163.7,3331.8 2165.8,3331.8 C2168.4,3331.8 2170.9,3359.7 2173.5,3359.7 C2178.2,3359.7 2182.8,3333.3 2187.5,3333.3 C2192.7,3333.3 2197.8,3333.9 2203.0,3334.9 C2206.6,3335.6 2210.2,3344.2 2213.8,3344.2 C2215.2,3344.2 2216.6,3311.1 2218.0,3300.0 C2219.7,3286.6 2221.4,3268.2 2223.1,3268.2 C2225.7,3268.2 2228.3,3347.3 2230.9,3347.3 C2234.0,3347.3 2237.1,3342.6 2240.2,3342.6 C2242.8,3342.6 2245.3,3364.3 2247.9,3375.2" fill="none" stroke="#FF0000" stroke-width="3.0" stroke-linejoin="round"/>
<path d="M68.0,3468.6 C75.7,3468.8 83.3,3469.2 91.0,3469.2 C93.2,3469.2 95.5,3464.7 97.7,3463.9 C104.4,3461.5 111.2,3461.6 117.9,3459.8 C125.1,3457.9 132.3,3453.3 139.5,3451.7 C150.3,3449.4 161.0,3447.9 171.8,3447.0 C183.0,3446.1 194.3,3445.0 205.5,3445.0 C213.1,3445.0 220.8,3447.0 228.4,3447.0 C232.0,3447.0 235.6,3443.0 239.2,3441.0 C247.5,3436.4 255.7,3432.0 264.0,3427.5 C271.5,3423.4 278.9,3415.1 286.4,3415.1 C301.3,3415.1 316.1,3415.8 331.0,3417.1 C339.1,3417.8 347.1,3426.0 355.2,3426.0 C371.4,3426.0 387.5,3426.0 403.7,3426.0 C437.4,3426.0 471.1,3416.9 504.8,3411.9 C553.3,3404.7 601.8,3396.7 650.3,3388.8 C671.1,3385.4 692.0,3382.9 712.8,3378.4 C734.4,3373.7 755.9,3365.3 777.5,3358.2 C792.3,3353.3 807.1,3347.8 821.9,3342.8 C834.0,3338.7 846.2,3331.5 858.3,3330.7 C873.1,3329.7 888.0,3329.1 902.8,3329.1 C923.0,3329.1 943.3,3331.9 963.5,3333.9 C991.8,3336.7 1020.1,3345.2 1048.4,3345.2 C1058.5,3345.2 1068.6,3344.7 1078.7,3342.8 C1082.1,3342.2 1085.4,3300.2 1088.8,3285.4 C1092.2,3270.6 1095.5,3256.1 1098.9,3249.0 C1102.0,3242.4 1105.1,3234.9 1108.2,3234.9 C1111.2,3234.9 1114.1,3246.3 1117.1,3257.1 C1119.8,3266.9 1122.5,3302.8 1125.2,3309.7 C1129.2,3320.0 1133.3,3327.9 1137.3,3327.9 C1141.3,3327.9 1145.4,3326.9 1149.4,3325.8 C1154.8,3324.3 1160.2,3316.0 1165.6,3313.7 C1179.1,3308.0 1192.5,3303.2 1206.0,3302.8 C1214.7,3302.6 1223.4,3302.6 1232.1,3302.4 C1244.2,3302.1 1256.4,3297.4 1268.5,3293.5 C1283.3,3288.7 1298.2,3275.9 1313.0,3271.2 C1322.4,3268.2 1331.9,3265.7 1341.3,3264.4 C1349.4,3263.2 1357.5,3262.7 1365.6,3261.9 C1376.4,3260.9 1387.1,3260.4 1397.9,3259.1 C1412.7,3257.3 1427.6,3253.7 1442.4,3249.0 C1454.5,3245.2 1466.7,3237.3 1478.8,3230.8 C1488.2,3225.8 1497.7,3214.6 1507.1,3214.6 C1515.2,3214.6 1523.2,3215.2 1531.3,3215.9 C1539.4,3216.6 1547.5,3220.6 1555.6,3223.9 C1563.7,3227.2 1571.7,3231.0 1579.8,3236.9 C1586.5,3241.8 1593.3,3250.8 1600.0,3259.1 C1610.8,3272.4 1621.6,3291.2 1632.4,3305.6 C1643.2,3320.0 1653.9,3333.1 1664.7,3346.0 C1674.1,3357.3 1683.6,3369.3 1693.0,3378.4 C1707.8,3392.7 1722.7,3405.1 1737.5,3414.8 C1751.0,3423.6 1764.5,3435.8 1778.0,3437.0 C1792.0,3438.2 1806.0,3438.1 1820.0,3439.0 C1834.0,3439.9 1848.0,3443.4 1862.0,3443.4 C1867.2,3443.4 1872.3,3434.0 1877.5,3434.0 C1900.2,3434.0 1923.0,3446.5 1945.7,3446.5 C1955.2,3446.5 1964.7,3440.7 1974.2,3439.0 C1990.3,3436.2 2006.5,3436.1 2022.6,3433.0 C2032.2,3431.1 2041.8,3422.4 2051.4,3422.4 C2068.0,3422.4 2084.7,3423.9 2101.3,3423.9 C2112.9,3423.9 2124.5,3409.7 2136.1,3409.7 C2139.6,3409.7 2143.2,3410.7 2146.7,3413.3 C2147.7,3414.0 2148.7,3423.8 2149.7,3425.4 C2152.7,3430.1 2155.8,3432.0 2158.8,3433.0 C2161.3,3433.8 2163.8,3433.5 2166.3,3434.5 C2168.3,3435.3 2170.4,3469.3 2172.4,3469.3 C2175.9,3469.3 2179.5,3437.5 2183.0,3437.5 C2185.0,3437.5 2187.0,3446.1 2189.0,3446.6 C2193.0,3447.6 2197.1,3447.2 2201.1,3448.1 C2204.1,3448.8 2207.2,3450.8 2210.2,3455.6 C2211.2,3457.2 2212.2,3469.3 2213.2,3469.3 C2214.2,3469.3 2215.3,3449.1 2216.3,3439.0 C2218.6,3416.8 2220.8,3372.0 2223.1,3372.0 C2224.9,3372.0 2226.6,3383.2 2228.4,3395.0 C2229.9,3405.0 2231.4,3447.5 2232.9,3455.6 C2234.9,3466.5 2237.0,3475.3 2239.0,3475.3 C2240.0,3475.3 2241.0,3458.7 2242.0,3458.7 C2243.3,3458.7 2244.6,3470.8 2245.9,3476.8" fill="none" stroke="#000000" stroke-width="3.0" stroke-linejoin="round"/>
<rect x="1366" y="2055" width="853.0" height="1498.5" fill="none" stroke="#FF0000" stroke-width="4.6"/>
<line x1="66.2" y1="3599.6" x2="66.2" y2="3631.0" stroke="#000" stroke-width="4.5"/>
<text x="66.2" y="3701.3" font-size="56" text-anchor="middle">1500</text>
<line x1="102.6" y1="3599.6" x2="102.6" y2="3615.0" stroke="#000" stroke-width="4.5"/>
<line x1="138.9" y1="3599.6" x2="138.9" y2="3615.0" stroke="#000" stroke-width="4.5"/>
<line x1="175.3" y1="3599.6" x2="175.3" y2="3615.0" stroke="#000" stroke-width="4.5"/>
<line x1="211.7" y1="3599.6" x2="211.7" y2="3615.0" stroke="#000" stroke-width="4.5"/>
<line x1="248.0" y1="3599.6" x2="248.0" y2="3615.0" stroke="#000" stroke-width="4.5"/>
<line x1="284.4" y1="3599.6" x2="284.4" y2="3631.0" stroke="#000" stroke-width="4.5"/>
<text x="284.4" y="3701.3" font-size="56" text-anchor="middle">1400</text>
<line x1="320.7" y1="3599.6" x2="320.7" y2="3615.0" stroke="#000" stroke-width="4.5"/>
<line x1="357.1" y1="3599.6" x2="357.1" y2="3615.0" stroke="#000" stroke-width="4.5"/>
<line x1="393.5" y1="3599.6" x2="393.5" y2="3615.0" stroke="#000" stroke-width="4.5"/>
<line x1="429.8" y1="3599.6" x2="429.8" y2="3615.0" stroke="#000" stroke-width="4.5"/>
<line x1="466.2" y1="3599.6" x2="466.2" y2="3615.0" stroke="#000" stroke-width="4.5"/>
<line x1="502.6" y1="3599.6" x2="502.6" y2="3631.0" stroke="#000" stroke-width="4.5"/>
<text x="502.6" y="3701.3" font-size="56" text-anchor="middle">1300</text>
<line x1="538.9" y1="3599.6" x2="538.9" y2="3615.0" stroke="#000" stroke-width="4.5"/>
<line x1="575.3" y1="3599.6" x2="575.3" y2="3615.0" stroke="#000" stroke-width="4.5"/>
<line x1="611.7" y1="3599.6" x2="611.7" y2="3615.0" stroke="#000" stroke-width="4.5"/>
<line x1="648.0" y1="3599.6" x2="648.0" y2="3615.0" stroke="#000" stroke-width="4.5"/>
<line x1="684.4" y1="3599.6" x2="684.4" y2="3615.0" stroke="#000" stroke-width="4.5"/>
<line x1="720.7" y1="3599.6" x2="720.7" y2="3631.0" stroke="#000" stroke-width="4.5"/>
<text x="720.7" y="3701.3" font-size="56" text-anchor="middle">1200</text>
<line x1="757.1" y1="3599.6" x2="757.1" y2="3615.0" stroke="#000" stroke-width="4.5"/>
<line x1="793.5" y1="3599.6" x2="793.5" y2="3615.0" stroke="#000" stroke-width="4.5"/>
<line x1="829.8" y1="3599.6" x2="829.8" y2="3615.0" stroke="#000" stroke-width="4.5"/>
<line x1="866.2" y1="3599.6" x2="866.2" y2="3615.0" stroke="#000" stroke-width="4.5"/>
<line x1="902.6" y1="3599.6" x2="902.6" y2="3615.0" stroke="#000" stroke-width="4.5"/>
<line x1="938.9" y1="3599.6" x2="938.9" y2="3631.0" stroke="#000" stroke-width="4.5"/>
<text x="938.9" y="3701.3" font-size="56" text-anchor="middle">1100</text>
<line x1="975.3" y1="3599.6" x2="975.3" y2="3615.0" stroke="#000" stroke-width="4.5"/>
<line x1="1011.6" y1="3599.6" x2="1011.6" y2="3615.0" stroke="#000" stroke-width="4.5"/>
<line x1="1048.0" y1="3599.6" x2="1048.0" y2="3615.0" stroke="#000" stroke-width="4.5"/>
<line x1="1084.4" y1="3599.6" x2="1084.4" y2="3615.0" stroke="#000" stroke-width="4.5"/>
<line x1="1120.7" y1="3599.6" x2="1120.7" y2="3615.0" stroke="#000" stroke-width="4.5"/>
<line x1="1157.1" y1="3599.6" x2="1157.1" y2="3631.0" stroke="#000" stroke-width="4.5"/>
<text x="1157.1" y="3701.3" font-size="56" text-anchor="middle">1000</text>
<line x1="1193.5" y1="3599.6" x2="1193.5" y2="3615.0" stroke="#000" stroke-width="4.5"/>
<line x1="1229.8" y1="3599.6" x2="1229.8" y2="3615.0" stroke="#000" stroke-width="4.5"/>
<line x1="1266.2" y1="3599.6" x2="1266.2" y2="3615.0" stroke="#000" stroke-width="4.5"/>
<line x1="1302.6" y1="3599.6" x2="1302.6" y2="3615.0" stroke="#000" stroke-width="4.5"/>
<line x1="1338.9" y1="3599.6" x2="1338.9" y2="3615.0" stroke="#000" stroke-width="4.5"/>
<line x1="1375.3" y1="3599.6" x2="1375.3" y2="3631.0" stroke="#000" stroke-width="4.5"/>
<text x="1375.3" y="3701.3" font-size="56" text-anchor="middle">900</text>
<line x1="1411.6" y1="3599.6" x2="1411.6" y2="3615.0" stroke="#000" stroke-width="4.5"/>
<line x1="1448.0" y1="3599.6" x2="1448.0" y2="3615.0" stroke="#000" stroke-width="4.5"/>
<line x1="1484.4" y1="3599.6" x2="1484.4" y2="3615.0" stroke="#000" stroke-width="4.5"/>
<line x1="1520.7" y1="3599.6" x2="1520.7" y2="3615.0" stroke="#000" stroke-width="4.5"/>
<line x1="1557.1" y1="3599.6" x2="1557.1" y2="3615.0" stroke="#000" stroke-width="4.5"/>
<line x1="1593.5" y1="3599.6" x2="1593.5" y2="3631.0" stroke="#000" stroke-width="4.5"/>
<text x="1593.5" y="3701.3" font-size="56" text-anchor="middle">800</text>
<line x1="1629.8" y1="3599.6" x2="1629.8" y2="3615.0" stroke="#000" stroke-width="4.5"/>
<line x1="1666.2" y1="3599.6" x2="1666.2" y2="3615.0" stroke="#000" stroke-width="4.5"/>
<line x1="1702.5" y1="3599.6" x2="1702.5" y2="3615.0" stroke="#000" stroke-width="4.5"/>
<line x1="1738.9" y1="3599.6" x2="1738.9" y2="3615.0" stroke="#000" stroke-width="4.5"/>
<line x1="1775.3" y1="3599.6" x2="1775.3" y2="3615.0" stroke="#000" stroke-width="4.5"/>
<line x1="1811.6" y1="3599.6" x2="1811.6" y2="3631.0" stroke="#000" stroke-width="4.5"/>
<text x="1811.6" y="3701.3" font-size="56" text-anchor="middle">700</text>
<line x1="1848.0" y1="3599.6" x2="1848.0" y2="3615.0" stroke="#000" stroke-width="4.5"/>
<line x1="1884.4" y1="3599.6" x2="1884.4" y2="3615.0" stroke="#000" stroke-width="4.5"/>
<line x1="1920.7" y1="3599.6" x2="1920.7" y2="3615.0" stroke="#000" stroke-width="4.5"/>
<line x1="1957.1" y1="3599.6" x2="1957.1" y2="3615.0" stroke="#000" stroke-width="4.5"/>
<line x1="1993.5" y1="3599.6" x2="1993.5" y2="3615.0" stroke="#000" stroke-width="4.5"/>
<line x1="2029.8" y1="3599.6" x2="2029.8" y2="3631.0" stroke="#000" stroke-width="4.5"/>
<text x="2029.8" y="3701.3" font-size="56" text-anchor="middle">600</text>
<line x1="2066.2" y1="3599.6" x2="2066.2" y2="3615.0" stroke="#000" stroke-width="4.5"/>
<line x1="2102.5" y1="3599.6" x2="2102.5" y2="3615.0" stroke="#000" stroke-width="4.5"/>
<line x1="2138.9" y1="3599.6" x2="2138.9" y2="3615.0" stroke="#000" stroke-width="4.5"/>
<line x1="2175.3" y1="3599.6" x2="2175.3" y2="3615.0" stroke="#000" stroke-width="4.5"/>
<line x1="2211.6" y1="3599.6" x2="2211.6" y2="3615.0" stroke="#000" stroke-width="4.5"/>
<line x1="2248.0" y1="3599.6" x2="2248.0" y2="3631.0" stroke="#000" stroke-width="4.5"/>
<text x="2248.0" y="3701.3" font-size="56" text-anchor="middle">500</text>
<text x="77.1" y="2267.8" font-size="43.0" textLength="45.5" lengthAdjust="spacingAndGlyphs">30</text>
<text x="0.0" y="0.0" font-size="26" transform="translate(128.8,2226.2) scale(1.1,0.85) translate(0.0,0.0)">o</text>
<text x="141.5" y="2267.8" font-size="43.0">C</text>
<text x="80.2" y="2351.5" font-size="43.0" textLength="45.5" lengthAdjust="spacingAndGlyphs">35</text>
<text x="0.0" y="0.0" font-size="26" transform="translate(131.9,2309.9) scale(1.1,0.85) translate(0.0,0.0)">o</text>
<text x="144.6" y="2351.5" font-size="43.0">C</text>
<text x="75.5" y="2423.3" font-size="43.0" textLength="45.5" lengthAdjust="spacingAndGlyphs">40</text>
<text x="0.0" y="0.0" font-size="26" transform="translate(126.2,2381.7) scale(1.1,0.85) translate(0.0,0.0)">o</text>
<text x="138.9" y="2423.3" font-size="43.0">C</text>
<text x="79.0" y="2502.7" font-size="43.0" textLength="45.5" lengthAdjust="spacingAndGlyphs">45</text>
<text x="0.0" y="0.0" font-size="26" transform="translate(129.7,2461.1) scale(1.1,0.85) translate(0.0,0.0)">o</text>
<text x="142.4" y="2502.7" font-size="43.0">C</text>
<text x="73.5" y="2598.6" font-size="43.0" textLength="45.5" lengthAdjust="spacingAndGlyphs">50</text>
<text x="0.0" y="0.0" font-size="26" transform="translate(126.2,2557.0) scale(1.1,0.85) translate(0.0,0.0)">o</text>
<text x="138.9" y="2598.6" font-size="43.0">C</text>
<text x="74.0" y="2672.7" font-size="43.0" textLength="45.5" lengthAdjust="spacingAndGlyphs">60</text>
<text x="0.0" y="0.0" font-size="26" transform="translate(125.7,2631.1) scale(1.1,0.85) translate(0.0,0.0)">o</text>
<text x="138.4" y="2672.7" font-size="43.0">C</text>
<text x="77.6" y="2736.1" font-size="43.0" textLength="45.5" lengthAdjust="spacingAndGlyphs">65</text>
<text x="0.0" y="0.0" font-size="26" transform="translate(129.3,2694.5) scale(1.1,0.85) translate(0.0,0.0)">o</text>
<text x="142.0" y="2736.1" font-size="43.0">C</text>
<text x="73.0" y="2806.6" font-size="43.0" textLength="45.5" lengthAdjust="spacingAndGlyphs">70</text>
<text x="0.0" y="0.0" font-size="26" transform="translate(125.7,2765.0) scale(1.1,0.85) translate(0.0,0.0)">o</text>
<text x="138.4" y="2806.6" font-size="43.0">C</text>
<text x="79.4" y="2873.6" font-size="43.0" textLength="45.5" lengthAdjust="spacingAndGlyphs">80</text>
<text x="0.0" y="0.0" font-size="26" transform="translate(131.1,2832.0) scale(1.1,0.85) translate(0.0,0.0)">o</text>
<text x="143.8" y="2873.6" font-size="43.0">C</text>
<text x="78.6" y="2945.8" font-size="43.0" textLength="45.5" lengthAdjust="spacingAndGlyphs">90</text>
<text x="0.0" y="0.0" font-size="26" transform="translate(129.3,2904.2) scale(1.1,0.85) translate(0.0,0.0)">o</text>
<text x="142.0" y="2945.8" font-size="43.0">C</text>
<text x="74.5" y="3025.2" font-size="43.0" textLength="45.5" lengthAdjust="spacingAndGlyphs">80</text>
<text x="0.0" y="0.0" font-size="26" transform="translate(126.2,2983.6) scale(1.1,0.85) translate(0.0,0.0)">o</text>
<text x="138.9" y="3025.2" font-size="43.0">C</text>
<text x="77.5" y="3093.6" font-size="43.0" textLength="45.5" lengthAdjust="spacingAndGlyphs">70</text>
<text x="0.0" y="0.0" font-size="26" transform="translate(130.2,3052.0) scale(1.1,0.85) translate(0.0,0.0)">o</text>
<text x="142.9" y="3093.6" font-size="43.0">C</text>
<text x="77.6" y="3169.5" font-size="43.0" textLength="45.5" lengthAdjust="spacingAndGlyphs">60</text>
<text x="0.0" y="0.0" font-size="26" transform="translate(129.3,3127.9) scale(1.1,0.85) translate(0.0,0.0)">o</text>
<text x="142.0" y="3169.5" font-size="43.0">C</text>
<text x="76.6" y="3261.4" font-size="43.0" textLength="45.5" lengthAdjust="spacingAndGlyphs">50</text>
<text x="0.0" y="0.0" font-size="26" transform="translate(129.3,3219.8) scale(1.1,0.85) translate(0.0,0.0)">o</text>
<text x="142.0" y="3261.4" font-size="43.0">C</text>
<text x="77.8" y="3341.5" font-size="43.0" textLength="45.5" lengthAdjust="spacingAndGlyphs">40</text>
<text x="0.0" y="0.0" font-size="26" transform="translate(128.5,3299.9) scale(1.1,0.85) translate(0.0,0.0)">o</text>
<text x="141.2" y="3341.5" font-size="43.0">C</text>
<text x="74.1" y="3440.6" font-size="43.0" textLength="45.5" lengthAdjust="spacingAndGlyphs">30</text>
<text x="0.0" y="0.0" font-size="26" transform="translate(125.8,3399.0) scale(1.1,0.85) translate(0.0,0.0)">o</text>
<text x="138.5" y="3440.6" font-size="43.0">C</text>
<line x1="2271.9" y1="2286.0" x2="2276.5" y2="2839.0" stroke="#000" stroke-width="5.5"/>
<path d="M2271.9,2244.0 L2259.4,2288.0 L2284.4,2288.0 Z" fill="#000" stroke="#000" stroke-width="2" stroke-linejoin="round"/>
<line x1="2274.0" y1="2916.5" x2="2274.0" y2="3531.2" stroke="#000" stroke-width="5.5"/>
<path d="M2274.0,2877.4 L2261.2,2918.5 L2286.8,2918.5 Z" fill="#000" stroke="#000" stroke-width="2" stroke-linejoin="round"/>
<text x="0" y="0" font-size="68.0" font-weight="bold" text-anchor="middle" textLength="220.0" lengthAdjust="spacingAndGlyphs" transform="translate(2359.0,2496.0) rotate(-90)">Cooling</text>
<text x="0" y="0" font-size="68.0" font-weight="bold" text-anchor="middle" textLength="223.0" lengthAdjust="spacingAndGlyphs" transform="translate(2362.7,3124.4) rotate(-90)">Heating</text>
<text x="883.2" y="3825.5" font-size="66.0" font-weight="bold">Wavenumber</text>
<text x="1281.8" y="3826.5" font-size="50">(</text>
<text x="1298.5" y="3825.5" font-size="66.0" font-weight="bold">cm</text>
<text x="1384.5" y="3756.5" font-size="35" font-weight="bold">-1</text>
<text x="1414.2" y="3826.5" font-size="50">)</text>
<text x="1194.3" y="3945" font-size="86" text-anchor="middle">(<tspan font-weight="bold">b</tspan>)</text>
</svg>
</body></html>
